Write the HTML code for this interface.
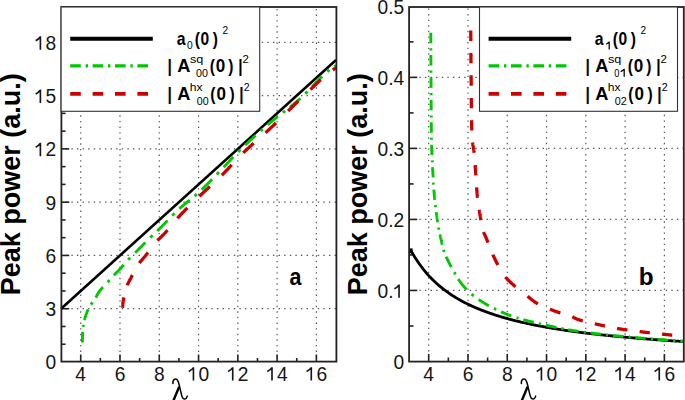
<!DOCTYPE html><html><head><meta charset="utf-8"><style>html,body{margin:0;padding:0;background:#fff;}svg{display:block;}text{font-family:"Liberation Sans",sans-serif;}</style></head><body>
<svg width="685" height="400" viewBox="0 0 685 400">
<rect width="685" height="400" fill="#fff"/>
<line x1="61.07" y1="308.72" x2="336.03" y2="308.72" stroke="#555" stroke-width="1.2" stroke-dasharray="1.4 4.2" fill="none" stroke-dashoffset="0.9"/>
<line x1="61.07" y1="255.44" x2="336.03" y2="255.44" stroke="#555" stroke-width="1.2" stroke-dasharray="1.4 4.2" fill="none" stroke-dashoffset="0.9"/>
<line x1="61.07" y1="202.16" x2="336.03" y2="202.16" stroke="#555" stroke-width="1.2" stroke-dasharray="1.4 4.2" fill="none" stroke-dashoffset="0.9"/>
<line x1="61.07" y1="148.88" x2="336.03" y2="148.88" stroke="#555" stroke-width="1.2" stroke-dasharray="1.4 4.2" fill="none" stroke-dashoffset="0.9"/>
<line x1="61.07" y1="95.60" x2="336.03" y2="95.60" stroke="#555" stroke-width="1.2" stroke-dasharray="1.4 4.2" fill="none" stroke-dashoffset="0.9"/>
<line x1="61.07" y1="42.32" x2="336.03" y2="42.32" stroke="#555" stroke-width="1.2" stroke-dasharray="1.4 4.2" fill="none" stroke-dashoffset="0.9"/>
<line x1="80.71" y1="362.00" x2="80.71" y2="6.80" stroke="#555" stroke-width="1.2" stroke-dasharray="1.4 4.2" fill="none" stroke-dashoffset="1.15"/>
<line x1="119.99" y1="362.00" x2="119.99" y2="6.80" stroke="#555" stroke-width="1.2" stroke-dasharray="1.4 4.2" fill="none" stroke-dashoffset="1.15"/>
<line x1="159.27" y1="362.00" x2="159.27" y2="6.80" stroke="#555" stroke-width="1.2" stroke-dasharray="1.4 4.2" fill="none" stroke-dashoffset="1.15"/>
<line x1="198.55" y1="362.00" x2="198.55" y2="6.80" stroke="#555" stroke-width="1.2" stroke-dasharray="1.4 4.2" fill="none" stroke-dashoffset="1.15"/>
<line x1="237.83" y1="362.00" x2="237.83" y2="6.80" stroke="#555" stroke-width="1.2" stroke-dasharray="1.4 4.2" fill="none" stroke-dashoffset="1.15"/>
<line x1="277.11" y1="362.00" x2="277.11" y2="6.80" stroke="#555" stroke-width="1.2" stroke-dasharray="1.4 4.2" fill="none" stroke-dashoffset="1.15"/>
<line x1="316.39" y1="362.00" x2="316.39" y2="6.80" stroke="#555" stroke-width="1.2" stroke-dasharray="1.4 4.2" fill="none" stroke-dashoffset="1.15"/>
<line x1="61.07" y1="308.72" x2="69.27" y2="308.72" stroke="#222" stroke-width="1.6" fill="none"/>
<line x1="61.07" y1="255.44" x2="69.27" y2="255.44" stroke="#222" stroke-width="1.6" fill="none"/>
<line x1="61.07" y1="202.16" x2="69.27" y2="202.16" stroke="#222" stroke-width="1.6" fill="none"/>
<line x1="61.07" y1="148.88" x2="69.27" y2="148.88" stroke="#222" stroke-width="1.6" fill="none"/>
<line x1="61.07" y1="95.60" x2="69.27" y2="95.60" stroke="#222" stroke-width="1.6" fill="none"/>
<line x1="61.07" y1="42.32" x2="69.27" y2="42.32" stroke="#222" stroke-width="1.6" fill="none"/>
<line x1="61.07" y1="344.24" x2="65.57" y2="344.24" stroke="#222" stroke-width="1.6" fill="none"/>
<line x1="61.07" y1="326.48" x2="65.57" y2="326.48" stroke="#222" stroke-width="1.6" fill="none"/>
<line x1="61.07" y1="290.96" x2="65.57" y2="290.96" stroke="#222" stroke-width="1.6" fill="none"/>
<line x1="61.07" y1="273.20" x2="65.57" y2="273.20" stroke="#222" stroke-width="1.6" fill="none"/>
<line x1="61.07" y1="237.68" x2="65.57" y2="237.68" stroke="#222" stroke-width="1.6" fill="none"/>
<line x1="61.07" y1="219.92" x2="65.57" y2="219.92" stroke="#222" stroke-width="1.6" fill="none"/>
<line x1="61.07" y1="184.40" x2="65.57" y2="184.40" stroke="#222" stroke-width="1.6" fill="none"/>
<line x1="61.07" y1="166.64" x2="65.57" y2="166.64" stroke="#222" stroke-width="1.6" fill="none"/>
<line x1="61.07" y1="131.12" x2="65.57" y2="131.12" stroke="#222" stroke-width="1.6" fill="none"/>
<line x1="61.07" y1="113.36" x2="65.57" y2="113.36" stroke="#222" stroke-width="1.6" fill="none"/>
<line x1="61.07" y1="77.84" x2="65.57" y2="77.84" stroke="#222" stroke-width="1.6" fill="none"/>
<line x1="61.07" y1="60.08" x2="65.57" y2="60.08" stroke="#222" stroke-width="1.6" fill="none"/>
<line x1="61.07" y1="24.56" x2="65.57" y2="24.56" stroke="#222" stroke-width="1.6" fill="none"/>
<line x1="80.71" y1="362.00" x2="80.71" y2="354.50" stroke="#222" stroke-width="1.6" fill="none"/>
<line x1="119.99" y1="362.00" x2="119.99" y2="354.50" stroke="#222" stroke-width="1.6" fill="none"/>
<line x1="159.27" y1="362.00" x2="159.27" y2="354.50" stroke="#222" stroke-width="1.6" fill="none"/>
<line x1="198.55" y1="362.00" x2="198.55" y2="354.50" stroke="#222" stroke-width="1.6" fill="none"/>
<line x1="237.83" y1="362.00" x2="237.83" y2="354.50" stroke="#222" stroke-width="1.6" fill="none"/>
<line x1="277.11" y1="362.00" x2="277.11" y2="354.50" stroke="#222" stroke-width="1.6" fill="none"/>
<line x1="316.39" y1="362.00" x2="316.39" y2="354.50" stroke="#222" stroke-width="1.6" fill="none"/>
<line x1="100.35" y1="362.00" x2="100.35" y2="358.00" stroke="#222" stroke-width="1.6" fill="none"/>
<line x1="139.63" y1="362.00" x2="139.63" y2="358.00" stroke="#222" stroke-width="1.6" fill="none"/>
<line x1="178.91" y1="362.00" x2="178.91" y2="358.00" stroke="#222" stroke-width="1.6" fill="none"/>
<line x1="218.19" y1="362.00" x2="218.19" y2="358.00" stroke="#222" stroke-width="1.6" fill="none"/>
<line x1="257.47" y1="362.00" x2="257.47" y2="358.00" stroke="#222" stroke-width="1.6" fill="none"/>
<line x1="296.75" y1="362.00" x2="296.75" y2="358.00" stroke="#222" stroke-width="1.6" fill="none"/>
<text transform="translate(45.49,369.40) scale(0.96,1)" font-size="20.0" fill="#161616">0</text>
<text transform="translate(45.49,316.12) scale(0.96,1)" font-size="20.0" fill="#161616">3</text>
<text transform="translate(45.49,262.84) scale(0.96,1)" font-size="20.0" fill="#161616">6</text>
<text transform="translate(45.49,209.56) scale(0.96,1)" font-size="20.0" fill="#161616">9</text>
<path d="M40.39,142.82 L40.39,156.28 M40.39,143.32 C39.09,145.32 37.19,146.52 35.69,147.22" fill="none" stroke="#161616" stroke-width="1.65"/>
<text transform="translate(45.49,156.28) scale(0.96,1)" font-size="20.0" fill="#161616">2</text>
<path d="M40.39,89.54 L40.39,103.00 M40.39,90.04 C39.09,92.04 37.19,93.24 35.69,93.94" fill="none" stroke="#161616" stroke-width="1.65"/>
<text transform="translate(45.49,103.00) scale(0.96,1)" font-size="20.0" fill="#161616">5</text>
<path d="M40.39,36.26 L40.39,49.72 M40.39,36.76 C39.09,38.76 37.19,39.96 35.69,40.66" fill="none" stroke="#161616" stroke-width="1.65"/>
<text transform="translate(45.49,49.72) scale(0.96,1)" font-size="20.0" fill="#161616">8</text>
<text transform="translate(75.37,380.60) scale(0.96,1)" font-size="20.0" fill="#161616">4</text>
<text transform="translate(114.65,380.60) scale(0.96,1)" font-size="20.0" fill="#161616">6</text>
<text transform="translate(153.93,380.60) scale(0.96,1)" font-size="20.0" fill="#161616">8</text>
<path d="M193.44,367.14 L193.44,380.60 M193.44,367.64 C192.14,369.64 190.24,370.84 188.74,371.54" fill="none" stroke="#161616" stroke-width="1.65"/>
<text transform="translate(198.55,380.60) scale(0.96,1)" font-size="20.0" fill="#161616">0</text>
<path d="M232.72,367.14 L232.72,380.60 M232.72,367.64 C231.42,369.64 229.52,370.84 228.02,371.54" fill="none" stroke="#161616" stroke-width="1.65"/>
<text transform="translate(237.83,380.60) scale(0.96,1)" font-size="20.0" fill="#161616">2</text>
<path d="M272.00,367.14 L272.00,380.60 M272.00,367.64 C270.70,369.64 268.80,370.84 267.30,371.54" fill="none" stroke="#161616" stroke-width="1.65"/>
<text transform="translate(277.11,380.60) scale(0.96,1)" font-size="20.0" fill="#161616">4</text>
<path d="M311.28,367.14 L311.28,380.60 M311.28,367.64 C309.98,369.64 308.08,370.84 306.58,371.54" fill="none" stroke="#161616" stroke-width="1.65"/>
<text transform="translate(316.39,380.60) scale(0.96,1)" font-size="20.0" fill="#161616">6</text>
<line x1="409.06" y1="290.47" x2="684.02" y2="290.47" stroke="#555" stroke-width="1.2" stroke-dasharray="1.4 4.2" fill="none" stroke-dashoffset="0.9"/>
<line x1="409.06" y1="219.44" x2="684.02" y2="219.44" stroke="#555" stroke-width="1.2" stroke-dasharray="1.4 4.2" fill="none" stroke-dashoffset="0.9"/>
<line x1="409.06" y1="148.41" x2="684.02" y2="148.41" stroke="#555" stroke-width="1.2" stroke-dasharray="1.4 4.2" fill="none" stroke-dashoffset="0.9"/>
<line x1="409.06" y1="77.38" x2="684.02" y2="77.38" stroke="#555" stroke-width="1.2" stroke-dasharray="1.4 4.2" fill="none" stroke-dashoffset="0.9"/>
<line x1="428.70" y1="361.50" x2="428.70" y2="6.35" stroke="#555" stroke-width="1.2" stroke-dasharray="1.4 4.2" fill="none" stroke-dashoffset="1.15"/>
<line x1="467.98" y1="361.50" x2="467.98" y2="6.35" stroke="#555" stroke-width="1.2" stroke-dasharray="1.4 4.2" fill="none" stroke-dashoffset="1.15"/>
<line x1="507.26" y1="361.50" x2="507.26" y2="6.35" stroke="#555" stroke-width="1.2" stroke-dasharray="1.4 4.2" fill="none" stroke-dashoffset="1.15"/>
<line x1="546.54" y1="361.50" x2="546.54" y2="6.35" stroke="#555" stroke-width="1.2" stroke-dasharray="1.4 4.2" fill="none" stroke-dashoffset="1.15"/>
<line x1="585.82" y1="361.50" x2="585.82" y2="6.35" stroke="#555" stroke-width="1.2" stroke-dasharray="1.4 4.2" fill="none" stroke-dashoffset="1.15"/>
<line x1="625.10" y1="361.50" x2="625.10" y2="6.35" stroke="#555" stroke-width="1.2" stroke-dasharray="1.4 4.2" fill="none" stroke-dashoffset="1.15"/>
<line x1="664.38" y1="361.50" x2="664.38" y2="6.35" stroke="#555" stroke-width="1.2" stroke-dasharray="1.4 4.2" fill="none" stroke-dashoffset="1.15"/>
<line x1="409.06" y1="290.47" x2="417.26" y2="290.47" stroke="#222" stroke-width="1.6" fill="none"/>
<line x1="409.06" y1="219.44" x2="417.26" y2="219.44" stroke="#222" stroke-width="1.6" fill="none"/>
<line x1="409.06" y1="148.41" x2="417.26" y2="148.41" stroke="#222" stroke-width="1.6" fill="none"/>
<line x1="409.06" y1="77.38" x2="417.26" y2="77.38" stroke="#222" stroke-width="1.6" fill="none"/>
<line x1="409.06" y1="325.99" x2="413.56" y2="325.99" stroke="#222" stroke-width="1.6" fill="none"/>
<line x1="409.06" y1="254.96" x2="413.56" y2="254.96" stroke="#222" stroke-width="1.6" fill="none"/>
<line x1="409.06" y1="183.93" x2="413.56" y2="183.93" stroke="#222" stroke-width="1.6" fill="none"/>
<line x1="409.06" y1="112.90" x2="413.56" y2="112.90" stroke="#222" stroke-width="1.6" fill="none"/>
<line x1="409.06" y1="41.87" x2="413.56" y2="41.87" stroke="#222" stroke-width="1.6" fill="none"/>
<line x1="428.70" y1="361.50" x2="428.70" y2="354.00" stroke="#222" stroke-width="1.6" fill="none"/>
<line x1="467.98" y1="361.50" x2="467.98" y2="354.00" stroke="#222" stroke-width="1.6" fill="none"/>
<line x1="507.26" y1="361.50" x2="507.26" y2="354.00" stroke="#222" stroke-width="1.6" fill="none"/>
<line x1="546.54" y1="361.50" x2="546.54" y2="354.00" stroke="#222" stroke-width="1.6" fill="none"/>
<line x1="585.82" y1="361.50" x2="585.82" y2="354.00" stroke="#222" stroke-width="1.6" fill="none"/>
<line x1="625.10" y1="361.50" x2="625.10" y2="354.00" stroke="#222" stroke-width="1.6" fill="none"/>
<line x1="664.38" y1="361.50" x2="664.38" y2="354.00" stroke="#222" stroke-width="1.6" fill="none"/>
<line x1="448.34" y1="361.50" x2="448.34" y2="357.50" stroke="#222" stroke-width="1.6" fill="none"/>
<line x1="487.62" y1="361.50" x2="487.62" y2="357.50" stroke="#222" stroke-width="1.6" fill="none"/>
<line x1="526.90" y1="361.50" x2="526.90" y2="357.50" stroke="#222" stroke-width="1.6" fill="none"/>
<line x1="566.18" y1="361.50" x2="566.18" y2="357.50" stroke="#222" stroke-width="1.6" fill="none"/>
<line x1="605.46" y1="361.50" x2="605.46" y2="357.50" stroke="#222" stroke-width="1.6" fill="none"/>
<line x1="644.74" y1="361.50" x2="644.74" y2="357.50" stroke="#222" stroke-width="1.6" fill="none"/>
<text transform="translate(393.48,368.90) scale(0.96,1)" font-size="20.0" fill="#161616">0</text>
<text transform="translate(377.47,297.87) scale(0.96,1)" font-size="20.0" fill="#161616">0</text>
<text transform="translate(388.15,297.87) scale(0.96,1)" font-size="20.0" fill="#161616">.</text>
<path d="M399.05,284.41 L399.05,297.87 M399.05,284.91 C397.75,286.91 395.85,288.11 394.35,288.81" fill="none" stroke="#161616" stroke-width="1.65"/>
<text transform="translate(377.47,226.84) scale(0.96,1)" font-size="20.0" fill="#161616">0</text>
<text transform="translate(388.15,226.84) scale(0.96,1)" font-size="20.0" fill="#161616">.</text>
<text transform="translate(393.48,226.84) scale(0.96,1)" font-size="20.0" fill="#161616">2</text>
<text transform="translate(377.47,155.81) scale(0.96,1)" font-size="20.0" fill="#161616">0</text>
<text transform="translate(388.15,155.81) scale(0.96,1)" font-size="20.0" fill="#161616">.</text>
<text transform="translate(393.48,155.81) scale(0.96,1)" font-size="20.0" fill="#161616">3</text>
<text transform="translate(377.47,84.78) scale(0.96,1)" font-size="20.0" fill="#161616">0</text>
<text transform="translate(388.15,84.78) scale(0.96,1)" font-size="20.0" fill="#161616">.</text>
<text transform="translate(393.48,84.78) scale(0.96,1)" font-size="20.0" fill="#161616">4</text>
<text transform="translate(377.47,13.75) scale(0.96,1)" font-size="20.0" fill="#161616">0</text>
<text transform="translate(388.15,13.75) scale(0.96,1)" font-size="20.0" fill="#161616">.</text>
<text transform="translate(393.48,13.75) scale(0.96,1)" font-size="20.0" fill="#161616">5</text>
<text transform="translate(423.36,380.60) scale(0.96,1)" font-size="20.0" fill="#161616">4</text>
<text transform="translate(462.64,380.60) scale(0.96,1)" font-size="20.0" fill="#161616">6</text>
<text transform="translate(501.92,380.60) scale(0.96,1)" font-size="20.0" fill="#161616">8</text>
<path d="M541.43,367.14 L541.43,380.60 M541.43,367.64 C540.13,369.64 538.23,370.84 536.73,371.54" fill="none" stroke="#161616" stroke-width="1.65"/>
<text transform="translate(546.54,380.60) scale(0.96,1)" font-size="20.0" fill="#161616">0</text>
<path d="M580.71,367.14 L580.71,380.60 M580.71,367.64 C579.41,369.64 577.51,370.84 576.01,371.54" fill="none" stroke="#161616" stroke-width="1.65"/>
<text transform="translate(585.82,380.60) scale(0.96,1)" font-size="20.0" fill="#161616">2</text>
<path d="M619.99,367.14 L619.99,380.60 M619.99,367.64 C618.69,369.64 616.79,370.84 615.29,371.54" fill="none" stroke="#161616" stroke-width="1.65"/>
<text transform="translate(625.10,380.60) scale(0.96,1)" font-size="20.0" fill="#161616">4</text>
<path d="M659.27,367.14 L659.27,380.60 M659.27,367.64 C657.97,369.64 656.07,370.84 654.57,371.54" fill="none" stroke="#161616" stroke-width="1.65"/>
<text transform="translate(664.38,380.60) scale(0.96,1)" font-size="20.0" fill="#161616">6</text>
<path d="M61.07,308.72 L336.03,60.08" fill="none" stroke="#000" stroke-width="2.6" stroke-linecap="butt" stroke-linejoin="round"/>
<path d="M82.38,342.46 L82.38,342.22 L82.38,341.98 L82.38,341.74 L82.38,341.50 L82.39,341.26 L82.39,341.02 L82.39,340.78 L82.39,340.54 L82.40,340.30 L82.40,340.06 L82.40,339.82 L82.41,339.58 L82.41,339.34 L82.42,339.10 L82.42,338.86 L82.43,338.62 L82.43,338.38 L82.44,338.14 L82.45,337.90 L82.45,337.66 L82.46,337.42 L82.47,337.18 L82.47,336.94 L82.48,336.70 L82.49,336.46 L82.50,336.23 L82.51,335.99 L82.51,335.75 L82.52,335.51 L82.53,335.27 L82.54,335.03 L82.55,334.79 L82.56,334.55 L82.57,334.31 L82.58,334.07 L82.59,333.83 L82.60,333.59 L82.61,333.35 L82.62,333.11 L82.63,332.87 L82.64,332.63 L82.65,332.39 L82.66,332.15 L82.67,331.91 M83.05,326.88 L83.08,326.64 L83.10,326.41 L83.13,326.17 L83.16,325.93 L83.19,325.69 L83.21,325.46 L83.24,325.22 L83.28,324.99 L83.31,324.75 M84.32,320.06 L84.38,319.83 L84.45,319.59 L84.52,319.36 L84.58,319.13 L84.65,318.90 L84.72,318.67 L84.80,318.44 L84.87,318.21 L84.94,317.97 L85.01,317.74 L85.09,317.51 L85.16,317.29 L85.24,317.06 L85.31,316.83 L85.39,316.60 L85.47,316.37 L85.54,316.14 L85.62,315.92 L85.70,315.69 L85.78,315.46 L85.86,315.24 L85.93,315.01 L86.01,314.79 L86.09,314.56 L86.17,314.34 L86.25,314.11 L86.33,313.89 L86.41,313.67 L86.50,313.44 L86.58,313.22 L86.67,313.00 L86.75,312.77 L86.84,312.55 L86.93,312.33 L87.02,312.11 L87.12,311.88 L87.21,311.66 L87.30,311.44 L87.40,311.22 L87.50,311.00 L87.60,310.78 L87.70,310.56 L87.80,310.34 L87.90,310.12 L88.00,309.90 L88.11,309.68 L88.21,309.47 M90.86,304.63 L91.00,304.44 L91.14,304.24 L91.27,304.04 L91.41,303.85 L91.55,303.66 L91.70,303.47 L91.84,303.27 L91.99,303.08 L92.14,302.89 L92.28,302.70 L92.43,302.51 L92.58,302.33 M95.85,297.58 L95.96,297.37 L96.07,297.16 L96.18,296.94 L96.29,296.73 L96.40,296.51 L96.51,296.30 L96.62,296.08 L96.73,295.87 L96.84,295.65 L96.95,295.44 L97.06,295.22 L97.17,295.01 L97.28,294.79 L97.39,294.58 L97.50,294.37 L97.61,294.15 L97.73,293.95 L97.85,293.74 L97.96,293.53 L98.08,293.32 L98.20,293.12 L98.33,292.91 L98.45,292.71 L98.58,292.51 L98.71,292.31 L98.85,292.12 L98.98,291.92 L99.11,291.72 L99.26,291.53 L99.40,291.34 L99.54,291.15 L99.68,290.96 L99.88,290.71 L100.08,290.46 L100.28,290.21 L100.49,289.97 L100.70,289.72 L100.91,289.48 L101.12,289.23 L101.33,288.99 L101.54,288.75 L101.76,288.51 L101.97,288.27 L102.19,288.03 L102.40,287.79 L102.61,287.55 L102.83,287.32 L103.04,287.08 M107.68,282.22 L107.89,281.98 L108.10,281.74 L108.31,281.50 L108.52,281.26 L108.74,281.02 L108.95,280.78 L109.16,280.54 L109.37,280.30 L109.57,280.05 M113.81,275.26 L114.02,275.03 L114.24,274.79 L114.46,274.56 L114.69,274.33 L114.91,274.10 L115.14,273.88 L115.36,273.65 L115.59,273.42 L115.81,273.20 L116.04,272.97 L116.27,272.75 L116.50,272.52 L116.73,272.30 L116.96,272.08 L117.19,271.85 L117.42,271.63 L117.64,271.41 L117.87,271.18 L118.10,270.96 L118.33,270.73 L118.56,270.51 L118.78,270.28 L119.01,270.06 L119.24,269.83 L119.46,269.60 L119.68,269.37 L119.91,269.15 L120.13,268.91 L120.35,268.68 L120.57,268.45 L120.78,268.22 L121.00,267.98 L121.21,267.74 L121.43,267.50 L121.64,267.26 L121.85,267.02 L122.06,266.78 L122.26,266.54 L122.47,266.30 L122.68,266.05 L122.88,265.80 L123.09,265.56 L123.29,265.31 L123.50,265.07 L123.70,264.82 M128.13,259.78 L128.36,259.55 L128.58,259.32 L128.80,259.09 L129.03,258.87 L129.25,258.64 L129.48,258.41 L129.71,258.19 L129.93,257.96 L130.16,257.74 M135.15,252.77 L135.38,252.55 L135.61,252.32 L135.83,252.10 L136.06,251.87 L136.28,251.64 L136.51,251.42 L136.73,251.19 L136.96,250.96 L137.19,250.74 L137.41,250.51 L137.64,250.28 L137.86,250.06 L138.09,249.83 L138.31,249.60 L138.54,249.38 L138.77,249.15 L138.99,248.92 L139.22,248.70 L139.44,248.47 L139.67,248.24 L139.89,248.02 L140.12,247.79 L140.34,247.56 L140.57,247.34 L140.79,247.11 L141.02,246.88 L141.24,246.65 L141.47,246.42 L141.69,246.20 L141.91,245.97 L142.14,245.74 L142.36,245.51 L142.58,245.28 L142.81,245.05 L143.03,244.82 L143.25,244.59 L143.48,244.36 L143.70,244.13 L143.92,243.90 L144.15,243.68 L144.37,243.45 L144.59,243.22 L144.81,242.99 L145.04,242.76 L145.26,242.53 M150.25,237.57 L150.48,237.35 L150.71,237.13 L150.95,236.91 L151.18,236.69 L151.41,236.47 L151.65,236.25 L151.88,236.04 L152.11,235.82 L152.35,235.60 L152.58,235.38 M157.23,230.99 L157.46,230.77 L157.69,230.54 L157.92,230.32 L158.15,230.09 L158.37,229.87 L158.60,229.64 L158.83,229.42 L159.05,229.19 L159.28,228.97 L159.51,228.74 L159.73,228.51 L159.96,228.29 L160.18,228.06 L160.41,227.83 L160.63,227.60 L160.86,227.38 L161.08,227.15 L161.31,226.92 L161.53,226.69 L161.75,226.46 L161.98,226.23 L162.20,226.00 L162.42,225.77 L162.65,225.54 L162.87,225.31 L163.09,225.08 L163.31,224.85 L163.54,224.62 L163.76,224.39 L163.98,224.16 L164.20,223.93 L164.43,223.70 L164.65,223.47 L164.87,223.24 L165.09,223.01 L165.31,222.78 L165.53,222.54 L165.76,222.31 L165.98,222.08 L166.20,221.85 L166.42,221.62 L166.64,221.39 L166.86,221.16 L167.09,220.93 L167.31,220.69 L167.53,220.46 M172.20,215.63 L172.43,215.41 L172.65,215.18 L172.88,214.95 L173.10,214.72 L173.33,214.50 L173.55,214.27 L173.78,214.04 L174.01,213.82 L174.23,213.59 L174.46,213.37 M179.30,208.74 L179.54,208.52 L179.77,208.31 L180.01,208.09 L180.25,207.88 L180.48,207.67 L180.72,207.46 L180.96,207.25 L181.20,207.03 L181.44,206.83 L181.69,206.62 L181.93,206.41 L182.17,206.20 L182.41,205.99 L182.66,205.79 L182.90,205.58 L183.15,205.38 L183.39,205.17 L183.64,204.97 L183.88,204.76 L184.13,204.56 L184.38,204.35 L184.63,204.15 L184.87,203.95 L185.12,203.75 L185.37,203.54 L185.62,203.34 L185.87,203.14 L186.12,202.94 L186.37,202.74 L186.61,202.54 L186.86,202.34 L187.11,202.13 L187.30,201.98 L187.49,201.83 L187.68,201.68 L187.86,201.53 L188.05,201.38 L188.24,201.23 L188.43,201.08 L188.62,200.93 L188.80,200.78 L188.99,200.63 L189.18,200.48 L189.37,200.33 L189.55,200.18 L189.74,200.03 M194.57,196.08 L194.82,195.87 L195.06,195.66 L195.30,195.46 L195.54,195.25 L195.79,195.04 L196.03,194.83 L196.27,194.62 L196.51,194.41 L196.75,194.20 M201.66,189.64 L201.89,189.42 L202.12,189.20 L202.35,188.98 L202.58,188.76 L202.81,188.53 L203.04,188.31 L203.27,188.09 L203.50,187.87 L203.73,187.64 L203.96,187.42 L204.19,187.20 L204.41,186.97 L204.64,186.75 L204.87,186.53 L205.10,186.30 L205.32,186.08 L205.55,185.85 L205.78,185.63 L206.01,185.40 L206.23,185.18 L206.46,184.95 L206.69,184.72 L206.91,184.50 L207.14,184.27 L207.36,184.04 L207.59,183.82 L207.82,183.59 L208.04,183.36 L208.27,183.14 L208.49,182.91 L208.72,182.68 L208.94,182.45 L209.17,182.23 L209.39,182.00 L209.61,181.77 L209.84,181.54 L210.06,181.31 L210.29,181.08 L210.51,180.85 L210.74,180.63 L210.96,180.40 L211.18,180.17 L211.41,179.94 L211.63,179.71 L211.85,179.48 L212.08,179.25 M216.75,174.42 L216.98,174.19 L217.20,173.95 L217.42,173.72 L217.64,173.49 L217.86,173.26 L218.09,173.03 L218.31,172.80 L218.53,172.57 L218.75,172.34 L218.98,172.11 M223.64,167.28 L223.86,167.05 L224.08,166.82 L224.30,166.59 L224.52,166.35 L224.74,166.12 L224.96,165.89 L225.18,165.66 L225.40,165.42 L225.62,165.19 L225.84,164.95 L226.06,164.72 L226.28,164.49 L226.50,164.25 L226.71,164.02 L226.93,163.79 L227.15,163.55 L227.37,163.32 L227.59,163.08 L227.80,162.85 L228.02,162.61 L228.24,162.38 L228.46,162.14 L228.68,161.91 L228.89,161.67 L229.11,161.44 L229.33,161.21 L229.55,160.97 L229.76,160.74 L229.98,160.50 L230.20,160.27 L230.42,160.03 L230.64,159.80 L230.85,159.56 L231.07,159.33 L231.29,159.10 L231.51,158.86 L231.73,158.63 L231.94,158.39 L232.16,158.16 L232.38,157.93 L232.60,157.69 L232.82,157.46 L233.04,157.23 L233.26,156.99 M238.14,151.93 L238.36,151.71 L238.59,151.48 L238.81,151.25 L239.04,151.03 L239.27,150.80 L239.49,150.58 L239.72,150.36 L239.95,150.13 L240.18,149.91 L240.41,149.69 M245.24,145.03 L245.47,144.81 L245.70,144.59 L245.93,144.37 L246.17,144.15 L246.40,143.93 L246.63,143.71 L246.86,143.49 L247.10,143.27 L247.33,143.05 L247.56,142.83 L247.80,142.61 L248.03,142.40 L248.26,142.18 L248.50,141.96 L248.73,141.74 L248.97,141.52 L249.20,141.30 L249.43,141.09 L249.67,140.87 L249.90,140.65 L250.14,140.43 L250.37,140.22 L250.61,140.00 L250.84,139.78 L251.08,139.57 L251.32,139.35 L251.55,139.13 L251.79,138.92 L252.02,138.70 L252.26,138.48 L252.49,138.27 L252.73,138.05 L252.97,137.84 L253.20,137.62 L253.44,137.40 L253.68,137.19 L253.91,136.97 L254.15,136.76 L254.39,136.54 L254.63,136.33 L254.86,136.11 L255.10,135.90 L255.34,135.68 L255.58,135.47 M260.60,131.00 L260.84,130.79 L261.08,130.57 L261.32,130.36 L261.56,130.15 L261.80,129.94 L262.04,129.73 L262.28,129.52 L262.52,129.31 L262.76,129.10 M267.59,124.91 L267.83,124.70 L268.08,124.49 L268.32,124.28 L268.56,124.08 L268.80,123.87 L269.05,123.66 L269.29,123.45 L269.53,123.25 L269.78,123.04 L270.02,122.83 L270.26,122.63 L270.51,122.42 L270.75,122.22 L271.00,122.01 L271.24,121.81 L271.49,121.60 L271.74,121.40 L271.98,121.19 L272.23,120.99 L272.48,120.79 L272.72,120.58 L272.97,120.38 L273.22,120.18 L273.47,119.98 L273.71,119.78 L273.96,119.57 L274.21,119.37 L274.46,119.17 L274.71,118.97 L274.96,118.77 L275.21,118.57 L275.46,118.37 L275.65,118.22 L275.83,118.07 L276.02,117.92 L276.21,117.77 L276.40,117.63 L276.59,117.48 L276.77,117.33 L276.96,117.18 L277.15,117.03 L277.34,116.88 L277.53,116.73 L277.72,116.58 L277.90,116.43 M282.83,112.60 L283.02,112.45 L283.21,112.30 L283.40,112.16 L283.59,112.01 L283.78,111.86 L283.97,111.71 L284.16,111.57 L284.35,111.42 L284.54,111.27 L284.73,111.13 L284.92,110.98 L285.11,110.83 M289.84,107.14 L290.03,106.99 L290.22,106.84 L290.41,106.69 L290.59,106.54 L290.78,106.39 L290.97,106.24 L291.16,106.09 L291.35,105.94 L291.59,105.74 L291.84,105.54 L292.09,105.34 L292.34,105.14 L292.59,104.94 L292.84,104.74 L293.09,104.54 L293.34,104.34 L293.59,104.14 L293.83,103.94 L294.08,103.74 L294.33,103.53 L294.58,103.33 L294.82,103.13 L295.07,102.92 L295.31,102.72 L295.56,102.52 L295.81,102.31 L296.05,102.11 L296.30,101.90 L296.54,101.70 L296.78,101.49 L297.03,101.29 L297.27,101.08 L297.51,100.87 L297.76,100.67 L298.00,100.46 L298.24,100.25 L298.48,100.04 L298.72,99.83 L298.97,99.62 L299.21,99.41 L299.45,99.20 L299.68,98.99 L299.92,98.78 L300.16,98.57 L300.40,98.36 M305.28,93.73 L305.51,93.50 L305.74,93.27 L305.96,93.05 L306.19,92.82 L306.42,92.59 L306.64,92.36 L306.87,92.13 L307.09,91.91 L307.32,91.68 L307.55,91.45 M312.24,86.56 L312.46,86.33 L312.68,86.10 L312.90,85.86 L313.13,85.63 L313.35,85.40 L313.57,85.16 L313.79,84.93 L314.01,84.69 L314.24,84.46 L314.46,84.23 L314.68,83.99 L314.90,83.76 L315.13,83.53 L315.35,83.30 L315.57,83.06 L315.79,82.83 L316.02,82.60 L316.24,82.37 L316.46,82.13 L316.69,81.90 L316.91,81.67 L317.13,81.44 L317.36,81.21 L317.58,80.98 L317.81,80.75 L318.03,80.52 L318.26,80.29 L318.48,80.06 L318.71,79.83 L318.93,79.60 L319.16,79.37 L319.38,79.14 L319.61,78.92 L319.84,78.69 L320.06,78.46 L320.29,78.24 L320.52,78.01 L320.74,77.78 L320.97,77.56 L321.20,77.33 L321.43,77.11 L321.66,76.89 L321.89,76.66 L322.12,76.44 M327.29,71.72 L327.53,71.52 L327.77,71.31 L328.01,71.11 L328.26,70.91 L328.50,70.70 L328.74,70.50 L328.99,70.30 L329.24,70.10 L329.48,69.91 M334.17,66.53 L334.38,66.40 L334.58,66.28 L334.79,66.15 L335.00,66.03 L335.20,65.90 L335.41,65.78 L335.62,65.66 L335.82,65.53 L336.03,65.41" fill="none" stroke="#00c800" stroke-width="2.9" stroke-linecap="butt" stroke-linejoin="round"/>
<path d="M122.54,307.83 L122.55,307.63 L122.57,307.42 L122.58,307.22 L122.59,307.01 L122.60,306.81 L122.62,306.61 L122.63,306.40 L122.65,306.20 L122.66,305.99 L122.68,305.79 L122.70,305.59 L122.72,305.38 L122.73,305.18 L122.75,304.98 L122.77,304.77 L122.79,304.57 L122.81,304.37 L122.84,304.16 L122.86,303.96 L122.88,303.76 L122.90,303.55 L122.92,303.35 L122.95,303.15 L122.97,302.95 L122.99,302.74 L123.02,302.54 L123.04,302.34 L123.07,302.14 L123.09,301.93 L123.12,301.73 L123.14,301.53 L123.17,301.33 L123.20,301.13 L123.23,300.92 L123.26,300.72 L123.29,300.52 L123.32,300.32 L123.35,300.12 L123.39,299.92 L123.42,299.71 L123.46,299.51 L123.50,299.31 L123.53,299.11 L123.57,298.91 L123.61,298.71 L123.65,298.51 L123.69,298.31 L123.73,298.11 L123.77,297.91 L123.81,297.71 L123.85,297.51 L123.89,297.31 M127.22,285.25 L127.32,285.00 L127.43,284.75 L127.54,284.50 L127.65,284.26 L127.76,284.01 L127.88,283.76 L127.99,283.52 L128.11,283.27 L128.24,283.03 L128.36,282.78 L128.48,282.54 L128.61,282.30 L128.73,282.05 L128.86,281.81 L128.99,281.57 L129.12,281.33 L129.25,281.09 L129.38,280.84 L129.51,280.60 L129.64,280.36 L129.77,280.12 L129.90,279.88 L130.02,279.64 L130.15,279.40 L130.28,279.15 L130.41,278.91 L130.53,278.67 L130.66,278.43 L130.79,278.19 L130.91,277.94 L131.03,277.70 L131.15,277.46 L131.28,277.21 L131.40,276.97 L131.52,276.72 L131.64,276.48 L131.76,276.23 L131.88,275.99 L132.00,275.74 L132.12,275.50 L132.24,275.25 L132.37,275.00 M139.26,263.02 L139.43,262.80 L139.60,262.59 L139.77,262.38 L139.94,262.17 L140.11,261.96 L140.29,261.75 L140.47,261.55 L140.64,261.34 L140.82,261.13 L141.00,260.92 L141.18,260.72 L141.36,260.51 L141.54,260.30 L141.72,260.10 L141.90,259.89 L142.08,259.69 L142.26,259.48 L142.45,259.28 L142.63,259.07 L142.81,258.87 L142.99,258.66 L143.17,258.46 L143.35,258.25 L143.54,258.04 L143.72,257.84 L143.90,257.63 L144.07,257.42 L144.25,257.22 L144.43,257.01 L144.61,256.80 L144.78,256.59 L144.96,256.38 L145.13,256.17 L145.30,255.96 L145.48,255.75 L145.64,255.53 L145.81,255.32 L145.98,255.10 L146.15,254.89 L146.31,254.67 L146.48,254.46 L146.64,254.24 L146.81,254.02 L146.97,253.80 L147.13,253.58 L147.29,253.36 L147.46,253.14 L147.62,252.92 L147.78,252.70 L147.94,252.48 M157.37,240.55 L157.57,240.36 L157.76,240.16 L157.95,239.97 L158.14,239.78 L158.34,239.59 L158.53,239.40 L158.73,239.21 L158.93,239.02 L159.12,238.83 L159.32,238.64 L159.51,238.45 L159.71,238.26 L159.91,238.07 L160.10,237.88 L160.30,237.69 L160.50,237.50 L160.70,237.31 L160.89,237.12 L161.09,236.93 L161.29,236.74 L161.48,236.55 L161.68,236.36 L161.87,236.17 L162.07,235.98 L162.26,235.79 L162.46,235.59 L162.65,235.40 L162.84,235.21 L163.04,235.02 L163.23,234.82 L163.42,234.63 L163.61,234.43 L163.80,234.24 L163.99,234.04 L164.17,233.84 L164.36,233.65 L164.55,233.45 L164.73,233.25 L164.91,233.05 L165.10,232.85 L165.28,232.64 L165.46,232.44 L165.64,232.24 L165.83,232.04 L166.01,231.84 L166.19,231.63 L166.37,231.43 L166.55,231.22 L166.73,231.02 L166.91,230.81 L167.08,230.61 L167.26,230.40 L167.44,230.20 M177.44,218.31 L177.61,218.10 L177.79,217.90 L177.98,217.69 L178.16,217.49 L178.34,217.29 L178.52,217.09 L178.70,216.89 L178.88,216.68 L179.07,216.48 L179.25,216.28 L179.43,216.08 L179.62,215.88 L179.80,215.68 L179.99,215.49 L180.17,215.29 L180.36,215.09 L180.55,214.89 L180.73,214.69 L180.92,214.49 L181.11,214.30 L181.29,214.10 L181.48,213.90 L181.67,213.71 L181.86,213.51 L182.04,213.31 L182.23,213.12 L182.42,212.92 L182.61,212.72 L182.80,212.53 L182.99,212.33 L183.18,212.14 L183.37,211.94 L183.56,211.75 L183.75,211.55 L183.94,211.36 L184.13,211.16 L184.32,210.97 L184.51,210.77 L184.70,210.58 L184.89,210.39 L185.08,210.19 L185.27,210.00 L185.46,209.81 L185.66,209.61 L185.85,209.42 L186.04,209.23 L186.23,209.03 L186.42,208.84 L186.62,208.65 L186.81,208.46 L187.00,208.26 L187.20,208.07 L187.39,207.88 M199.32,196.30 L199.52,196.11 L199.71,195.93 L199.91,195.74 L200.11,195.55 L200.30,195.36 L200.50,195.17 L200.70,194.99 L200.89,194.80 L201.09,194.61 L201.29,194.42 L201.49,194.24 L201.68,194.05 L201.88,193.86 L202.08,193.68 L202.28,193.49 L202.48,193.30 L202.68,193.12 L202.88,192.93 L203.08,192.75 L203.27,192.56 L203.47,192.37 L203.67,192.19 L203.87,192.00 L204.07,191.82 L204.27,191.63 L204.47,191.45 L204.67,191.26 L204.87,191.08 L205.07,190.89 L205.27,190.71 L205.47,190.52 L205.67,190.34 L205.87,190.15 L206.07,189.97 L206.27,189.78 L206.47,189.60 L206.68,189.42 L206.88,189.23 L207.08,189.05 L207.28,188.86 L207.48,188.68 L207.68,188.50 L207.88,188.31 L208.08,188.13 L208.28,187.94 L208.48,187.76 L208.68,187.58 L208.88,187.39 L209.09,187.21 L209.29,187.02 L209.49,186.84 L209.69,186.66 L209.89,186.47 M221.78,175.27 L221.97,175.08 L222.16,174.89 L222.36,174.69 L222.55,174.50 L222.74,174.31 L222.93,174.11 L223.12,173.92 L223.31,173.73 L223.50,173.53 L223.69,173.34 L223.88,173.14 L224.07,172.95 L224.26,172.75 L224.45,172.56 L224.64,172.36 L224.83,172.17 L225.02,171.97 L225.21,171.77 L225.40,171.58 L225.58,171.38 L225.77,171.18 L225.96,170.98 L226.15,170.79 L226.33,170.59 L226.52,170.39 L226.71,170.19 L226.90,170.00 L227.08,169.80 L227.27,169.60 L227.46,169.40 L227.64,169.20 L227.83,169.00 L228.02,168.80 L228.20,168.60 L228.39,168.40 L228.57,168.21 L228.76,168.01 L228.94,167.81 L229.13,167.61 L229.32,167.41 L229.50,167.21 L229.69,167.01 L229.87,166.81 L230.06,166.61 L230.24,166.41 L230.43,166.21 L230.61,166.01 L230.80,165.81 L230.98,165.61 L231.17,165.41 L231.35,165.21 L231.54,165.01 L231.72,164.81 M243.23,152.83 L243.42,152.64 L243.62,152.46 L243.82,152.27 L244.01,152.08 L244.21,151.89 L244.41,151.70 L244.60,151.52 L244.80,151.33 L245.00,151.14 L245.20,150.96 L245.39,150.77 L245.59,150.58 L245.79,150.40 L245.99,150.21 L246.19,150.03 L246.39,149.84 L246.59,149.66 L246.78,149.47 L246.98,149.29 L247.18,149.10 L247.38,148.92 L247.58,148.73 L247.78,148.55 L247.98,148.36 L248.19,148.18 L248.39,148.00 L248.59,147.81 L248.79,147.63 L248.99,147.45 L249.19,147.26 L249.39,147.08 L249.59,146.90 L249.80,146.72 L250.00,146.53 L250.20,146.35 L250.40,146.17 L250.61,145.99 L250.81,145.80 L251.01,145.62 L251.21,145.44 L251.42,145.26 L251.62,145.08 L251.82,144.90 L252.03,144.72 L252.23,144.53 L252.43,144.35 L252.64,144.17 L252.84,143.99 L253.04,143.81 L253.25,143.63 L253.45,143.45 L253.66,143.27 M265.49,132.79 L265.70,132.61 L265.90,132.43 L266.10,132.24 L266.30,132.06 L266.50,131.88 L266.70,131.69 L266.90,131.51 L267.11,131.33 L267.31,131.14 L267.51,130.96 L267.71,130.78 L267.91,130.59 L268.11,130.41 L268.31,130.22 L268.51,130.04 L268.71,129.85 L268.91,129.67 L269.11,129.48 L269.31,129.30 L269.50,129.11 L269.70,128.92 L269.90,128.74 L270.10,128.55 L270.30,128.37 L270.50,128.18 L270.70,127.99 L270.89,127.81 L271.09,127.62 L271.29,127.43 L271.49,127.24 L271.69,127.06 L271.88,126.87 L272.08,126.68 L272.28,126.50 L272.48,126.31 L272.67,126.12 L272.87,125.93 L273.07,125.74 L273.26,125.56 L273.46,125.37 L273.66,125.18 L273.85,124.99 L274.05,124.80 L274.25,124.62 L274.44,124.43 L274.64,124.24 L274.84,124.05 L275.03,123.86 L275.23,123.67 L275.43,123.48 L275.62,123.29 L275.82,123.10 L276.01,122.92 M288.05,111.07 L288.25,110.88 L288.44,110.68 L288.63,110.49 L288.83,110.30 L289.02,110.11 L289.21,109.92 L289.41,109.72 L289.60,109.53 L289.79,109.34 L289.99,109.15 L290.18,108.96 L290.37,108.77 L290.57,108.57 L290.76,108.38 L290.95,108.19 L291.15,108.00 L291.34,107.81 L291.53,107.61 L291.73,107.42 L291.92,107.23 L292.12,107.04 L292.31,106.85 L292.50,106.66 L292.70,106.46 L292.89,106.27 L293.08,106.08 L293.28,105.89 L293.47,105.70 L293.67,105.51 L293.86,105.31 L294.05,105.12 L294.25,104.93 L294.44,104.74 L294.63,104.55 L294.83,104.36 L295.02,104.17 L295.22,103.98 L295.41,103.78 L295.61,103.59 L295.80,103.40 L295.99,103.21 L296.19,103.02 L296.38,102.83 L296.58,102.64 L296.77,102.45 L296.97,102.26 L297.16,102.07 L297.35,101.88 L297.55,101.69 L297.74,101.50 L297.94,101.31 L298.13,101.12 L298.33,100.92 M310.37,89.50 L310.58,89.32 L310.78,89.13 L310.98,88.95 L311.18,88.77 L311.38,88.58 L311.58,88.40 L311.78,88.22 L311.98,88.03 L312.18,87.85 L312.38,87.66 L312.58,87.47 L312.78,87.29 L312.98,87.10 L313.18,86.91 L313.38,86.73 L313.58,86.54 L313.78,86.35 L313.98,86.16 L314.18,85.97 L314.38,85.79 L314.57,85.60 L314.77,85.41 L314.97,85.22 L315.17,85.03 L315.37,84.84 L315.57,84.65 L315.77,84.46 L315.96,84.27 L316.16,84.08 L316.36,83.89 L316.56,83.70 L316.76,83.51 L316.96,83.32 L317.16,83.13 L317.35,82.94 L317.55,82.75 L317.75,82.56 L317.95,82.36 L318.15,82.17 L318.35,81.98 L318.55,81.79 L318.75,81.60 L318.95,81.41 L319.14,81.22 L319.34,81.03 L319.54,80.84 L319.74,80.66 L319.94,80.47 L320.14,80.28 L320.34,80.09 L320.54,79.90 L320.74,79.71 M332.72,69.92 L332.95,69.78 L333.17,69.63 L333.40,69.49 L333.63,69.35 L333.85,69.21 L334.09,69.07 L334.33,68.94 L334.56,68.81 L334.81,68.69 L335.05,68.56 L335.29,68.44 L335.54,68.32 L335.78,68.19 L336.03,68.07" fill="none" stroke="#cc0000" stroke-width="3.3" stroke-linecap="butt" stroke-linejoin="round"/>
<path d="M410.43,249.52 L411.35,251.19 L412.26,252.82 L413.18,254.39 L414.09,255.93 L415.01,257.42 L415.92,258.86 L416.84,260.27 L417.75,261.64 L418.67,262.97 L419.58,264.27 L420.50,265.54 L421.41,266.77 L422.33,267.97 L423.24,269.14 L424.16,270.28 L425.07,271.40 L425.99,272.48 L426.90,273.54 L427.82,274.58 L428.73,275.59 L429.65,276.58 L430.56,277.55 L431.48,278.49 L432.39,279.41 L433.31,280.32 L434.22,281.20 L435.14,282.07 L436.05,282.91 L436.97,283.74 L437.88,284.55 L438.80,285.34 L439.71,286.12 L440.63,286.88 L441.54,287.63 L442.46,288.36 L443.37,289.08 L444.29,289.79 L445.20,290.48 L446.12,291.15 L447.03,291.82 L447.95,292.47 L448.86,293.11 L449.78,293.74 L450.69,294.35 L451.61,294.96 L452.52,295.55 L453.44,296.14 L454.35,296.71 L455.27,297.28 L456.18,297.83 L457.10,298.37 L458.01,298.91 L458.93,299.44 L459.84,299.95 L460.76,300.46 L461.67,300.96 L462.59,301.46 L463.50,301.94 L464.42,302.42 L465.33,302.89 L466.25,303.35 L467.16,303.80 L468.08,304.25 L468.99,304.69 L469.91,305.13 L470.82,305.55 L471.74,305.97 L472.65,306.39 L473.57,306.80 L474.48,307.20 L475.40,307.60 L476.31,307.99 L477.23,308.37 L478.14,308.75 L479.06,309.13 L479.97,309.50 L480.89,309.86 L481.80,310.22 L482.72,310.57 L483.63,310.92 L484.55,311.27 L485.46,311.61 L486.38,311.94 L487.29,312.27 L488.21,312.60 L489.12,312.92 L490.04,313.25 L490.95,313.56 L491.87,313.87 L492.78,314.18 L493.70,314.49 L494.61,314.79 L495.53,315.09 L496.44,315.38 L497.36,315.67 L498.27,315.95 L499.19,316.24 L500.10,316.52 L501.02,316.79 L501.93,317.06 L502.85,317.33 L503.76,317.60 L504.68,317.86 L505.59,318.12 L506.51,318.38 L507.42,318.63 L508.34,318.88 L509.25,319.13 L510.17,319.38 L511.08,319.62 L512.00,319.86 L512.91,320.09 L513.83,320.33 L514.74,320.56 L515.66,320.79 L516.57,321.02 L517.49,321.24 L518.40,321.46 L519.32,321.68 L520.23,321.90 L521.15,322.11 L522.06,322.32 L522.98,322.53 L523.89,322.74 L524.81,322.95 L525.72,323.15 L526.64,323.35 L527.55,323.55 L528.47,323.75 L529.38,323.94 L530.30,324.14 L531.21,324.33 L532.13,324.52 L533.04,324.70 L533.96,324.89 L534.87,325.07 L535.79,325.26 L536.70,325.44 L537.62,325.61 L538.53,325.79 L539.45,325.97 L540.36,326.14 L541.28,326.31 L542.19,326.48 L543.11,326.65 L544.02,326.82 L544.94,326.98 L545.85,327.14 L546.77,327.31 L547.68,327.47 L548.60,327.63 L549.51,327.78 L550.43,327.94 L551.34,328.09 L552.26,328.25 L553.17,328.40 L554.09,328.55 L555.00,328.70 L555.92,328.85 L556.83,328.99 L557.75,329.14 L558.66,329.28 L559.58,329.43 L560.49,329.57 L561.41,329.71 L562.32,329.85 L563.24,329.99 L564.15,330.12 L565.07,330.26 L565.98,330.39 L566.90,330.53 L567.81,330.66 L568.73,330.79 L569.64,330.92 L570.56,331.05 L571.47,331.18 L572.39,331.30 L573.30,331.43 L574.22,331.55 L575.13,331.68 L576.05,331.80 L576.96,331.92 L577.88,332.04 L578.79,332.16 L579.71,332.28 L580.62,332.40 L581.54,332.52 L582.45,332.63 L583.37,332.75 L584.28,332.86 L585.20,332.98 L586.11,333.09 L587.03,333.20 L587.94,333.31 L588.86,333.42 L589.77,333.53 L590.69,333.64 L591.60,333.74 L592.52,333.85 L593.43,333.96 L594.35,334.06 L595.26,334.17 L596.18,334.27 L597.09,334.37 L598.01,334.47 L598.92,334.58 L599.84,334.68 L600.75,334.78 L601.67,334.87 L602.58,334.97 L603.50,335.07 L604.41,335.17 L605.33,335.26 L606.24,335.36 L607.16,335.45 L608.07,335.55 L608.99,335.64 L609.90,335.73 L610.82,335.83 L611.73,335.92 L612.65,336.01 L613.56,336.10 L614.48,336.19 L615.39,336.28 L616.31,336.37 L617.22,336.45 L618.14,336.54 L619.05,336.63 L619.97,336.71 L620.88,336.80 L621.80,336.88 L622.71,336.97 L623.63,337.05 L624.54,337.13 L625.46,337.22 L626.37,337.30 L627.29,337.38 L628.20,337.46 L629.12,337.54 L630.03,337.62 L630.95,337.70 L631.86,337.78 L632.78,337.86 L633.69,337.94 L634.61,338.01 L635.52,338.09 L636.44,338.17 L637.35,338.24 L638.27,338.32 L639.18,338.39 L640.10,338.47 L641.01,338.54 L641.93,338.61 L642.84,338.69 L643.76,338.76 L644.67,338.83 L645.59,338.90 L646.50,338.98 L647.42,339.05 L648.33,339.12 L649.25,339.19 L650.16,339.26 L651.08,339.33 L651.99,339.39 L652.91,339.46 L653.82,339.53 L654.74,339.60 L655.65,339.66 L656.57,339.73 L657.48,339.80 L658.40,339.86 L659.31,339.93 L660.23,339.99 L661.14,340.06 L662.06,340.12 L662.97,340.19 L663.89,340.25 L664.80,340.31 L665.72,340.38 L666.63,340.44 L667.55,340.50 L668.46,340.56 L669.38,340.62 L670.29,340.69 L671.21,340.75 L672.12,340.81 L673.04,340.87 L673.95,340.93 L674.87,340.99 L675.78,341.04 L676.70,341.10 L677.61,341.16 L678.53,341.22 L679.44,341.28 L680.36,341.33 L681.27,341.39 L682.19,341.45 L683.10,341.50 L684.02,341.56" fill="none" stroke="#000" stroke-width="2.8" stroke-linecap="butt" stroke-linejoin="round"/>
<path d="M430.80,32.63 L430.80,32.88 L430.80,33.12 L430.80,33.37 L430.80,33.62 L430.80,33.86 L430.80,34.11 L430.81,34.36 L430.81,34.60 L430.81,34.85 L430.81,35.10 L430.81,35.34 L430.81,35.59 L430.81,35.83 L430.81,36.08 L430.81,36.33 L430.81,36.57 L430.81,36.82 L430.81,37.07 L430.81,37.31 L430.81,37.56 L430.81,37.81 L430.82,38.05 L430.82,38.30 L430.82,38.55 L430.82,38.79 L430.82,39.04 L430.82,39.28 L430.82,39.53 L430.82,39.78 L430.82,40.02 L430.82,40.27 L430.82,40.52 L430.82,40.76 L430.82,41.01 L430.82,41.26 L430.82,41.50 L430.83,41.75 L430.83,42.00 L430.83,42.24 L430.83,42.49 L430.83,42.73 L430.83,42.98 L430.83,43.23 M430.85,48.16 L430.85,48.40 L430.85,48.65 L430.85,48.89 L430.85,49.14 L430.85,49.39 L430.85,49.63 L430.85,49.88 L430.85,50.13 L430.86,50.37 M430.87,55.06 L430.87,55.30 L430.88,55.55 L430.88,55.79 L430.88,56.04 L430.88,56.29 L430.88,56.53 L430.88,56.78 L430.88,57.03 L430.88,57.27 L430.88,57.52 L430.88,57.77 L430.89,58.01 L430.89,58.26 L430.89,58.51 L430.89,58.75 L430.89,59.00 L430.89,59.24 L430.89,59.49 L430.89,59.74 L430.89,59.98 L430.90,60.23 L430.90,60.48 L430.90,60.72 L430.90,60.97 L430.90,61.22 L430.90,61.46 L430.90,61.71 L430.90,61.95 L430.90,62.20 L430.91,62.45 L430.91,62.69 L430.91,62.94 L430.91,63.19 L430.91,63.43 L430.91,63.68 L430.91,63.93 L430.91,64.17 L430.91,64.42 L430.92,64.67 L430.92,64.91 L430.92,65.16 L430.92,65.40 M430.94,70.58 L430.94,70.83 L430.95,71.07 L430.95,71.32 L430.95,71.57 L430.95,71.81 L430.95,72.06 L430.95,72.30 L430.95,72.55 L430.95,72.80 M430.98,77.48 L430.98,77.73 L430.98,77.97 L430.98,78.22 L430.98,78.46 L430.99,78.71 L430.99,78.96 L430.99,79.20 L430.99,79.45 L430.99,79.70 L430.99,79.94 L430.99,80.19 L430.99,80.44 L431.00,80.68 L431.00,80.93 L431.00,81.18 L431.00,81.42 L431.00,81.67 L431.00,81.91 L431.00,82.16 L431.01,82.41 L431.01,82.65 L431.01,82.90 L431.01,83.15 L431.01,83.39 L431.01,83.64 L431.01,83.89 L431.01,84.13 L431.02,84.38 L431.02,84.63 L431.02,84.87 L431.02,85.12 L431.02,85.36 L431.02,85.61 L431.02,85.86 L431.03,86.10 L431.03,86.35 L431.03,86.60 L431.03,86.84 L431.03,87.09 L431.03,87.34 L431.03,87.58 L431.04,87.83 M431.06,93.00 L431.07,93.25 L431.07,93.50 L431.07,93.74 L431.07,93.99 L431.07,94.24 L431.07,94.48 L431.07,94.73 L431.08,94.97 L431.08,95.22 M431.10,99.90 L431.10,100.15 L431.11,100.40 L431.11,100.64 L431.11,100.89 L431.11,101.14 L431.11,101.38 L431.11,101.63 L431.11,101.87 L431.11,102.12 L431.12,102.37 L431.12,102.61 L431.12,102.86 L431.12,103.11 L431.12,103.35 L431.12,103.60 L431.12,103.85 L431.13,104.09 L431.13,104.34 L431.13,104.59 L431.13,104.83 L431.13,105.08 L431.13,105.32 L431.13,105.57 L431.14,105.82 L431.14,106.06 L431.14,106.31 L431.14,106.56 L431.14,106.80 L431.14,107.05 L431.14,107.30 L431.15,107.54 L431.15,107.79 L431.15,108.04 L431.15,108.28 L431.15,108.53 L431.15,108.77 L431.15,109.02 L431.16,109.27 L431.16,109.51 L431.16,109.76 L431.16,110.01 L431.16,110.25 M431.20,115.43 L431.20,115.67 L431.20,115.92 L431.20,116.17 L431.20,116.41 L431.20,116.66 L431.21,116.91 L431.21,117.15 L431.21,117.40 M431.25,122.33 L431.25,122.57 L431.25,122.82 L431.26,123.07 L431.26,123.31 L431.26,123.56 L431.26,123.81 L431.26,124.05 L431.27,124.30 L431.27,124.55 L431.27,124.79 L431.27,125.04 L431.28,125.29 L431.28,125.53 L431.28,125.78 L431.28,126.02 L431.29,126.27 L431.29,126.52 L431.29,126.76 L431.29,127.01 L431.29,127.26 L431.30,127.50 L431.30,127.75 L431.30,128.00 L431.30,128.24 L431.31,128.49 L431.31,128.73 L431.31,128.98 L431.32,129.23 L431.32,129.47 L431.32,129.72 L431.32,129.97 L431.33,130.21 L431.33,130.46 L431.33,130.71 L431.33,130.95 L431.34,131.20 L431.34,131.45 L431.34,131.69 L431.35,131.94 L431.35,132.18 L431.35,132.43 L431.35,132.68 M431.42,137.85 L431.42,138.10 L431.43,138.34 L431.43,138.59 L431.43,138.84 L431.44,139.08 L431.44,139.33 L431.45,139.57 L431.45,139.82 M431.57,144.75 L431.58,144.99 L431.59,145.24 L431.59,145.49 L431.60,145.73 L431.61,145.98 L431.62,146.23 L431.63,146.47 L431.64,146.72 L431.65,146.96 L431.66,147.21 L431.67,147.46 L431.68,147.70 L431.69,147.95 L431.70,148.20 L431.71,148.44 L431.72,148.69 L431.73,148.93 L431.74,149.18 L431.75,149.43 L431.76,149.67 L431.77,149.92 L431.78,150.17 L431.79,150.41 L431.80,150.66 L431.81,150.90 L431.82,151.15 L431.83,151.40 L431.84,151.64 L431.85,151.89 L431.86,152.14 L431.87,152.38 L431.88,152.63 L431.89,152.87 L431.90,153.12 L431.91,153.37 L431.92,153.61 L431.93,153.86 L431.94,154.10 L431.95,154.35 L431.96,154.60 L431.97,154.84 L431.98,155.09 M432.21,160.26 L432.23,160.51 L432.24,160.75 L432.25,161.00 L432.26,161.24 L432.27,161.49 L432.29,161.74 L432.30,161.98 L432.31,162.23 M432.56,167.15 L432.58,167.40 L432.59,167.64 L432.60,167.89 L432.62,168.13 L432.63,168.38 L432.64,168.63 L432.66,168.87 L432.67,169.12 L432.68,169.36 L432.70,169.61 L432.71,169.86 L432.72,170.10 L432.74,170.35 L432.75,170.60 L432.76,170.84 L432.78,171.09 L432.79,171.33 L432.81,171.58 L432.82,171.83 L432.83,172.07 L432.85,172.32 L432.86,172.56 L432.87,172.81 L432.89,173.06 L432.90,173.30 L432.92,173.55 L432.93,173.79 L432.94,174.04 L432.96,174.29 L432.97,174.53 L432.99,174.78 L433.00,175.02 L433.01,175.27 L433.03,175.52 L433.04,175.76 L433.06,176.01 L433.07,176.25 L433.08,176.50 L433.10,176.75 L433.11,176.99 L433.12,177.24 L433.14,177.48 M433.43,182.65 L433.45,182.90 L433.46,183.15 L433.47,183.39 L433.49,183.64 L433.50,183.88 L433.52,184.13 L433.53,184.38 L433.55,184.62 M433.86,189.54 L433.88,189.79 L433.90,190.03 L433.91,190.28 L433.93,190.52 L433.95,190.77 L433.97,191.02 L433.98,191.26 L434.00,191.51 L434.02,191.75 L434.04,192.00 L434.06,192.24 L434.07,192.49 L434.09,192.73 L434.11,192.98 L434.13,193.23 L434.15,193.47 L434.17,193.72 L434.19,193.96 L434.21,194.21 L434.23,194.45 L434.25,194.70 L434.27,194.94 L434.29,195.19 L434.31,195.43 L434.33,195.68 L434.35,195.92 L434.37,196.17 L434.40,196.42 L434.42,196.66 L434.44,196.91 L434.46,197.15 L434.49,197.40 L434.51,197.64 L434.53,197.89 L434.56,198.13 L434.58,198.38 L434.61,198.62 L434.63,198.87 L434.66,199.11 L434.68,199.36 L434.71,199.60 L434.74,199.85 M435.34,204.99 L435.37,205.23 L435.40,205.48 L435.43,205.72 L435.46,205.96 L435.49,206.21 L435.52,206.45 L435.56,206.70 L435.59,206.94 L435.62,207.19 M436.28,212.07 L436.31,212.32 L436.34,212.56 L436.38,212.81 L436.41,213.05 L436.45,213.30 L436.48,213.54 L436.51,213.78 L436.55,214.03 L436.58,214.27 L436.61,214.52 L436.65,214.76 L436.68,215.01 L436.71,215.25 L436.75,215.49 L436.78,215.74 L436.82,215.98 L436.85,216.23 L436.88,216.47 L436.92,216.71 L436.95,216.96 L436.98,217.20 L437.02,217.45 L437.05,217.69 L437.08,217.93 L437.12,218.18 L437.15,218.42 L437.18,218.67 L437.22,218.91 L437.25,219.16 L437.28,219.40 L437.32,219.64 L437.35,219.89 L437.39,220.13 L437.42,220.38 L437.46,220.62 L437.49,220.87 L437.52,221.11 L437.56,221.35 L437.59,221.60 L437.63,221.84 L437.66,222.09 L437.70,222.33 M438.50,227.44 L438.54,227.68 L438.59,227.93 L438.63,228.17 L438.67,228.41 L438.71,228.65 L438.76,228.90 L438.80,229.14 L438.85,229.38 L438.89,229.62 M439.91,234.44 L439.97,234.68 L440.02,234.92 L440.08,235.16 L440.13,235.40 L440.19,235.64 L440.24,235.88 L440.30,236.12 L440.36,236.36 L440.41,236.60 L440.47,236.84 L440.53,237.08 L440.58,237.33 L440.64,237.57 L440.70,237.81 L440.75,238.05 L440.81,238.29 L440.86,238.53 L440.92,238.77 L440.98,239.01 L441.03,239.25 L441.09,239.49 L441.15,239.73 L441.20,239.97 L441.26,240.20 L441.31,240.45 L441.37,240.69 L441.42,240.93 L441.48,241.17 L441.53,241.41 L441.59,241.65 L441.64,241.89 L441.69,242.13 L441.75,242.37 L441.80,242.61 L441.86,242.86 L441.91,243.10 L441.96,243.34 L442.02,243.58 L442.07,243.82 L442.12,244.06 L442.18,244.31 L442.23,244.55 L442.28,244.79 M443.52,249.82 L443.59,250.05 L443.66,250.29 L443.73,250.52 L443.80,250.75 L443.87,250.99 L443.94,251.22 L444.02,251.45 L444.09,251.69 L444.17,251.92 M446.11,256.70 L446.22,256.92 L446.33,257.15 L446.43,257.37 L446.54,257.59 L446.64,257.82 L446.75,258.04 L446.86,258.26 L446.97,258.49 L447.08,258.71 L447.19,258.93 L447.30,259.16 L447.41,259.38 L447.52,259.60 L447.63,259.82 L447.74,260.04 L447.85,260.27 L447.96,260.49 L448.07,260.71 L448.18,260.93 L448.29,261.15 L448.40,261.37 L448.50,261.59 L448.61,261.81 L448.72,262.04 L448.83,262.26 L448.94,262.48 L449.05,262.70 L449.16,262.92 L449.27,263.14 L449.38,263.36 L449.49,263.57 L449.61,263.79 L449.72,264.01 L449.83,264.23 L449.94,264.45 L450.06,264.67 L450.17,264.89 L450.29,265.10 L450.40,265.32 L450.52,265.54 L450.64,265.76 L450.75,265.97 L450.87,266.19 L450.99,266.41 L451.10,266.62 L451.22,266.84 L451.34,267.06 M454.23,272.22 L454.35,272.44 L454.47,272.65 L454.59,272.87 L454.71,273.08 L454.83,273.30 L454.95,273.52 L455.07,273.73 L455.19,273.95 L455.31,274.16 L455.43,274.38 M458.14,279.07 L458.28,279.27 L458.41,279.48 L458.55,279.68 L458.69,279.88 L458.83,280.08 L458.97,280.28 L459.11,280.48 L459.29,280.73 L459.47,280.98 L459.65,281.23 L459.83,281.48 L460.01,281.73 L460.20,281.97 L460.38,282.22 L460.57,282.47 L460.76,282.71 L460.95,282.96 L461.14,283.20 L461.33,283.44 L461.52,283.69 L461.72,283.93 L461.91,284.17 L462.10,284.41 L462.30,284.65 L462.50,284.89 L462.70,285.13 L462.90,285.36 L463.10,285.60 L463.30,285.84 L463.50,286.07 L463.70,286.31 L463.91,286.54 L464.11,286.77 L464.32,287.00 L464.52,287.24 L464.73,287.47 L464.94,287.69 L465.14,287.92 L465.35,288.15 L465.56,288.38 L465.77,288.60 L465.98,288.83 L466.19,289.06 L466.40,289.28 L466.61,289.50 M471.55,294.14 L471.78,294.33 L472.02,294.53 L472.26,294.73 L472.49,294.92 L472.73,295.11 L472.97,295.31 L473.21,295.50 L473.45,295.69 L473.70,295.88 M478.64,299.46 L478.84,299.60 L479.05,299.74 L479.25,299.88 L479.45,300.01 L479.66,300.15 L479.86,300.29 L480.07,300.42 L480.27,300.56 L480.48,300.70 L480.69,300.83 L480.89,300.96 L481.10,301.10 L481.31,301.23 L481.51,301.37 L481.72,301.50 L481.93,301.63 L482.14,301.77 L482.35,301.90 L482.55,302.03 L482.76,302.16 L482.97,302.29 L483.18,302.42 L483.39,302.55 L483.60,302.68 L483.81,302.81 L484.02,302.94 L484.23,303.07 L484.44,303.20 L484.65,303.33 L484.86,303.46 L485.08,303.58 L485.29,303.71 L485.50,303.84 L485.71,303.96 L485.92,304.09 L486.14,304.21 L486.35,304.34 L486.56,304.46 L486.77,304.59 L486.99,304.71 L487.20,304.83 L487.41,304.96 L487.63,305.08 L487.84,305.20 L488.06,305.32 L488.27,305.44 L488.48,305.56 L488.70,305.68 L488.91,305.81 M493.94,308.42 L494.16,308.53 L494.39,308.64 L494.61,308.74 L494.83,308.85 L495.05,308.96 L495.27,309.07 L495.49,309.17 L495.72,309.28 L495.94,309.39 L496.16,309.49 M501.07,311.79 L501.30,311.89 L501.53,311.99 L501.75,312.09 L501.98,312.19 L502.20,312.29 L502.43,312.39 L502.65,312.49 L502.88,312.59 L503.10,312.69 L503.33,312.79 L503.56,312.88 L503.78,312.98 L504.01,313.07 L504.24,313.17 L504.46,313.27 L504.69,313.36 L504.92,313.45 L505.15,313.55 L505.38,313.64 L505.60,313.73 L505.83,313.82 L506.06,313.92 L506.29,314.01 L506.52,314.10 L506.74,314.19 L506.97,314.28 L507.20,314.37 L507.43,314.46 L507.66,314.55 L507.89,314.64 L508.12,314.73 L508.35,314.82 L508.58,314.91 L508.81,315.00 L509.04,315.08 L509.27,315.17 L509.50,315.26 L509.73,315.34 L509.97,315.43 L510.20,315.52 L510.43,315.60 L510.66,315.69 L510.89,315.78 L511.12,315.86 L511.35,315.95 M516.49,317.70 L516.72,317.77 L516.95,317.85 L517.19,317.92 L517.42,317.99 L517.66,318.07 L517.89,318.14 L518.13,318.21 L518.37,318.28 L518.60,318.35 M523.34,319.69 L523.58,319.75 L523.82,319.82 L524.06,319.88 L524.30,319.95 L524.54,320.01 L524.77,320.07 L525.01,320.13 L525.25,320.20 L525.49,320.26 L525.73,320.32 L525.97,320.38 L526.21,320.44 L526.45,320.50 L526.68,320.57 L526.92,320.63 L527.16,320.69 L527.40,320.75 L527.64,320.81 L527.88,320.87 L528.12,320.93 L528.36,320.99 L528.60,321.05 L528.83,321.11 L529.07,321.17 L529.31,321.23 L529.55,321.29 L529.79,321.35 L530.03,321.41 L530.27,321.47 L530.51,321.53 L530.75,321.59 L530.99,321.65 L531.22,321.71 L531.46,321.77 L531.70,321.83 L531.94,321.89 L532.18,321.95 L532.42,322.00 L532.66,322.06 L532.90,322.12 L533.14,322.18 L533.38,322.24 L533.62,322.29 L533.86,322.35 M538.90,323.53 L539.14,323.58 L539.38,323.64 L539.62,323.69 L539.86,323.75 L540.10,323.80 L540.34,323.86 L540.58,323.91 L540.82,323.96 L541.06,324.02 M545.87,325.09 L546.11,325.15 L546.35,325.20 L546.59,325.25 L546.83,325.31 L547.07,325.36 L547.31,325.41 L547.56,325.47 L547.80,325.52 L548.04,325.58 L548.28,325.63 L548.52,325.68 L548.76,325.74 L549.00,325.79 L549.24,325.84 L549.48,325.90 L549.72,325.95 L549.96,326.01 L550.20,326.06 L550.44,326.12 L550.68,326.17 L550.92,326.22 L551.16,326.28 L551.40,326.33 L551.64,326.39 L551.88,326.44 L552.13,326.49 L552.37,326.55 L552.61,326.60 L552.85,326.65 L553.09,326.71 L553.33,326.76 L553.57,326.82 L553.81,326.87 L554.05,326.92 L554.29,326.98 L554.53,327.03 L554.77,327.08 L555.01,327.13 L555.25,327.19 L555.50,327.24 L555.74,327.29 L555.98,327.34 L556.22,327.39 M561.29,328.43 L561.53,328.48 L561.77,328.52 L562.01,328.57 L562.25,328.61 L562.50,328.66 L562.74,328.70 L562.98,328.75 L563.22,328.79 L563.47,328.84 M568.32,329.70 L568.56,329.74 L568.80,329.78 L569.05,329.82 L569.29,329.87 L569.53,329.91 L569.77,329.95 L570.02,329.99 L570.26,330.03 L570.50,330.07 L570.75,330.11 L570.99,330.15 L571.23,330.19 L571.48,330.24 L571.72,330.28 L571.96,330.32 L572.21,330.36 L572.45,330.40 L572.69,330.44 L572.94,330.48 L573.18,330.51 L573.42,330.55 L573.67,330.59 L573.91,330.63 L574.15,330.67 L574.40,330.71 L574.64,330.75 L574.88,330.79 L575.13,330.83 L575.37,330.87 L575.61,330.90 L575.86,330.94 L576.10,330.98 L576.35,331.02 L576.59,331.06 L576.83,331.09 L577.08,331.13 L577.32,331.17 L577.56,331.20 L577.81,331.24 L578.05,331.28 L578.29,331.32 L578.54,331.35 M583.66,332.09 L583.91,332.12 L584.15,332.15 L584.39,332.19 L584.64,332.22 L584.88,332.25 L585.13,332.29 L585.37,332.32 L585.61,332.35 L585.86,332.38 M590.74,333.01 L590.99,333.04 L591.23,333.07 L591.48,333.10 L591.72,333.13 L591.97,333.16 L592.21,333.19 L592.45,333.22 L592.70,333.25 L592.94,333.28 L593.19,333.31 L593.43,333.34 L593.68,333.37 L593.92,333.40 L594.17,333.43 L594.41,333.45 L594.66,333.48 L594.90,333.51 L595.15,333.54 L595.39,333.57 L595.63,333.60 L595.88,333.63 L596.12,333.66 L596.37,333.69 L596.61,333.72 L596.86,333.74 L597.10,333.77 L597.35,333.80 L597.59,333.83 L597.84,333.86 L598.08,333.89 L598.33,333.91 L598.57,333.94 L598.82,333.97 L599.06,334.00 L599.31,334.03 L599.55,334.05 L599.80,334.08 L600.04,334.11 L600.29,334.14 L600.53,334.16 L600.78,334.19 L601.02,334.22 M605.92,334.75 L606.17,334.78 L606.41,334.81 L606.66,334.83 L606.90,334.86 L607.15,334.88 L607.39,334.91 L607.64,334.94 L607.88,334.96 L608.13,334.99 M613.03,335.49 L613.28,335.51 L613.52,335.54 L613.77,335.56 L614.01,335.59 L614.26,335.61 L614.51,335.64 L614.75,335.66 L615.00,335.68 L615.24,335.71 L615.49,335.73 L615.73,335.76 L615.98,335.78 L616.22,335.80 L616.47,335.83 L616.71,335.85 L616.96,335.87 L617.20,335.90 L617.45,335.92 L617.69,335.95 L617.94,335.97 L618.19,335.99 L618.43,336.02 L618.68,336.04 L618.92,336.06 L619.17,336.09 L619.41,336.11 L619.66,336.13 L619.90,336.16 L620.15,336.18 L620.39,336.20 L620.64,336.23 L620.88,336.25 L621.13,336.27 L621.37,336.30 L621.62,336.32 L621.87,336.34 L622.11,336.36 L622.36,336.39 L622.60,336.41 L622.85,336.43 L623.09,336.45 L623.34,336.48 M628.49,336.95 L628.73,336.97 L628.98,336.99 L629.23,337.01 L629.47,337.03 L629.72,337.06 L629.96,337.08 L630.21,337.10 L630.45,337.12 L630.70,337.14 M635.36,337.56 L635.61,337.58 L635.85,337.60 L636.10,337.62 L636.34,337.64 L636.59,337.66 L636.83,337.69 L637.08,337.71 L637.32,337.73 L637.57,337.75 L637.81,337.77 L638.06,337.79 L638.31,337.81 L638.55,337.83 L638.80,337.86 L639.04,337.88 L639.29,337.90 L639.53,337.92 L639.78,337.94 L640.02,337.96 L640.27,337.98 L640.52,338.00 L640.76,338.02 L641.01,338.04 L641.25,338.07 L641.50,338.09 L641.74,338.11 L641.99,338.13 L642.23,338.15 L642.48,338.17 L642.72,338.19 L642.97,338.21 L643.22,338.23 L643.46,338.25 L643.71,338.27 L643.95,338.29 L644.20,338.31 L644.44,338.33 L644.69,338.36 L644.93,338.38 L645.18,338.40 L645.43,338.42 L645.67,338.44 M650.83,338.86 L651.07,338.88 L651.32,338.90 L651.57,338.92 L651.81,338.94 L652.06,338.96 L652.30,338.98 L652.55,339.00 L652.79,339.01 L653.04,339.03 M657.71,339.40 L657.95,339.42 L658.20,339.44 L658.44,339.45 L658.69,339.47 L658.94,339.49 L659.18,339.51 L659.43,339.53 L659.67,339.55 L659.92,339.57 L660.16,339.58 L660.41,339.60 L660.66,339.62 L660.90,339.64 L661.15,339.66 L661.39,339.68 L661.64,339.69 L661.89,339.71 L662.13,339.73 L662.38,339.75 L662.62,339.77 L662.87,339.78 L663.11,339.80 L663.36,339.82 L663.61,339.84 L663.85,339.86 L664.10,339.87 L664.34,339.89 L664.59,339.91 L664.83,339.93 L665.08,339.95 L665.33,339.96 L665.57,339.98 L665.82,340.00 L666.06,340.02 L666.31,340.03 L666.56,340.05 L666.80,340.07 L667.05,340.09 L667.29,340.10 L667.54,340.12 L667.78,340.14 L668.03,340.16 L668.28,340.17 M673.19,340.51 L673.44,340.52 L673.69,340.54 L673.93,340.56 L674.18,340.57 L674.42,340.59 L674.67,340.61 L674.92,340.62 L675.16,340.64 L675.41,340.65 M680.33,340.96 L680.57,340.98 L680.82,340.99 L681.07,341.01 L681.31,341.02 L681.56,341.04 L681.81,341.05 L682.05,341.07 L682.30,341.08 L682.54,341.10 L682.79,341.11 L683.04,341.13 L683.28,341.14 L683.53,341.16 L683.77,341.17 L684.02,341.19" fill="none" stroke="#00c800" stroke-width="2.9" stroke-linecap="butt" stroke-linejoin="round"/>
<path d="M470.73,30.50 L470.73,30.72 L470.73,30.95 L470.73,31.17 L470.74,31.39 L470.74,31.62 L470.74,31.84 L470.74,32.06 L470.74,32.29 L470.74,32.51 L470.74,32.73 L470.75,32.96 L470.75,33.18 L470.75,33.40 L470.75,33.62 L470.75,33.85 L470.75,34.07 L470.76,34.29 L470.76,34.52 L470.76,34.74 L470.76,34.96 L470.76,35.19 L470.76,35.41 L470.77,35.63 L470.77,35.86 L470.77,36.08 L470.77,36.30 L470.77,36.53 L470.77,36.75 L470.77,36.97 L470.78,37.20 L470.78,37.42 L470.78,37.64 L470.78,37.87 L470.78,38.09 L470.78,38.31 L470.79,38.53 L470.79,38.76 L470.79,38.98 L470.79,39.20 L470.79,39.43 L470.79,39.65 L470.80,39.87 L470.80,40.10 L470.80,40.32 L470.80,40.54 L470.80,40.77 L470.80,40.99 M470.90,53.04 L470.90,53.26 L470.90,53.49 L470.91,53.71 L470.91,53.93 L470.91,54.16 L470.91,54.38 L470.91,54.60 L470.92,54.83 L470.92,55.05 L470.92,55.27 L470.92,55.50 L470.92,55.72 L470.92,55.94 L470.93,56.17 L470.93,56.39 L470.93,56.61 L470.93,56.84 L470.93,57.06 L470.94,57.28 L470.94,57.51 L470.94,57.73 L470.94,57.95 L470.94,58.17 L470.95,58.40 L470.95,58.62 L470.95,58.84 L470.95,59.07 L470.95,59.29 L470.96,59.51 L470.96,59.74 L470.96,59.96 L470.96,60.18 L470.96,60.41 L470.97,60.63 L470.97,60.85 L470.97,61.08 L470.97,61.30 L470.97,61.52 L470.98,61.75 L470.98,61.97 L470.98,62.19 L470.98,62.42 L470.98,62.64 L470.99,62.86 L470.99,63.08 L470.99,63.31 M471.10,75.36 L471.10,75.58 L471.11,75.81 L471.11,76.03 L471.11,76.25 L471.11,76.48 L471.12,76.70 L471.12,76.92 L471.12,77.15 L471.12,77.37 L471.12,77.59 L471.13,77.81 L471.13,78.04 L471.13,78.26 L471.13,78.48 L471.14,78.71 L471.14,78.93 L471.14,79.15 L471.14,79.38 L471.14,79.60 L471.15,79.82 L471.15,80.05 L471.15,80.27 L471.15,80.49 L471.15,80.72 L471.16,80.94 L471.16,81.16 L471.16,81.39 L471.16,81.61 L471.16,81.83 L471.17,82.06 L471.17,82.28 L471.17,82.50 L471.17,82.72 L471.17,82.95 L471.18,83.17 L471.18,83.39 L471.18,83.62 L471.18,83.84 L471.18,84.06 L471.19,84.29 L471.19,84.51 L471.19,84.73 L471.19,84.96 L471.19,85.18 L471.19,85.40 L471.20,85.63 L471.20,85.85 M471.30,97.90 L471.30,98.13 L471.30,98.35 L471.31,98.57 L471.31,98.80 L471.31,99.02 L471.31,99.24 L471.31,99.47 L471.32,99.69 L471.32,99.91 L471.32,100.14 L471.32,100.36 L471.32,100.58 L471.33,100.81 L471.33,101.03 L471.33,101.25 L471.33,101.48 L471.34,101.70 L471.34,101.92 L471.34,102.15 L471.34,102.37 L471.34,102.59 L471.35,102.82 L471.35,103.04 L471.35,103.26 L471.35,103.49 L471.36,103.71 L471.36,103.93 L471.36,104.15 L471.36,104.38 L471.36,104.60 L471.37,104.82 L471.37,105.05 L471.37,105.27 L471.37,105.49 L471.38,105.72 L471.38,105.94 L471.38,106.16 L471.38,106.39 L471.39,106.61 L471.39,106.83 L471.39,107.06 L471.39,107.28 L471.40,107.50 L471.40,107.73 L471.40,107.95 L471.40,108.17 M471.58,120.22 L471.58,120.44 L471.58,120.67 L471.59,120.89 L471.59,121.11 L471.60,121.34 L471.60,121.56 L471.60,121.78 L471.61,122.01 L471.61,122.23 L471.62,122.45 L471.62,122.68 L471.63,122.90 L471.63,123.12 L471.63,123.34 L471.64,123.57 L471.64,123.79 L471.65,124.01 L471.65,124.24 L471.66,124.46 L471.66,124.68 L471.66,124.91 L471.67,125.13 L471.67,125.35 L471.68,125.57 L471.68,125.80 L471.69,126.02 L471.69,126.24 L471.70,126.47 L471.70,126.69 L471.71,126.91 L471.71,127.14 L471.72,127.36 L471.72,127.58 L471.73,127.81 L471.73,128.03 L471.74,128.25 L471.75,128.47 L471.75,128.70 L471.76,128.92 L471.77,129.14 L471.77,129.37 L471.78,129.59 L471.79,129.81 L471.80,130.04 L471.81,130.26 L471.81,130.48 M472.60,142.51 L472.63,142.73 L472.66,142.95 L472.68,143.17 L472.72,143.39 L472.75,143.61 L472.78,143.83 L472.82,144.05 L472.85,144.27 L472.89,144.49 L472.92,144.71 L472.96,144.93 L473.00,145.15 L473.04,145.37 L473.08,145.59 L473.12,145.81 L473.15,146.03 L473.19,146.25 L473.23,146.48 L473.27,146.70 L473.31,146.92 L473.35,147.14 L473.39,147.36 L473.43,147.58 L473.47,147.80 L473.50,148.02 L473.54,148.24 L473.58,148.46 L473.62,148.68 L473.65,148.90 L473.68,149.12 L473.71,149.34 L473.75,149.56 L473.78,149.78 L473.81,150.00 L473.83,150.22 L473.86,150.45 L473.88,150.67 L473.91,150.89 L473.93,151.11 L473.96,151.33 L473.98,151.55 L474.00,151.78 L474.03,152.00 L474.05,152.22 L474.07,152.44 L474.09,152.66 L474.12,152.88 M475.11,165.12 L475.12,165.34 L475.14,165.57 L475.16,165.79 L475.17,166.01 L475.19,166.24 L475.20,166.46 L475.22,166.68 L475.24,166.90 L475.25,167.13 L475.27,167.35 L475.28,167.57 L475.30,167.79 L475.32,168.02 L475.33,168.24 L475.35,168.46 L475.37,168.69 L475.38,168.91 L475.40,169.13 L475.42,169.35 L475.43,169.58 L475.45,169.80 L475.47,170.02 L475.48,170.24 L475.50,170.47 L475.51,170.69 L475.53,170.91 L475.55,171.13 L475.56,171.36 L475.58,171.58 L475.59,171.80 L475.61,172.02 L475.62,172.25 L475.64,172.47 L475.65,172.69 L475.67,172.92 L475.68,173.14 L475.70,173.36 L475.71,173.58 L475.73,173.81 L475.74,174.03 L475.76,174.25 L475.77,174.48 L475.79,174.70 L475.80,174.92 L475.82,175.14 L475.83,175.37 M476.60,187.40 L476.62,187.62 L476.64,187.84 L476.65,188.07 L476.67,188.29 L476.69,188.51 L476.70,188.73 L476.72,188.95 L476.74,189.18 L476.76,189.40 L476.77,189.62 L476.79,189.84 L476.81,190.07 L476.83,190.29 L476.85,190.51 L476.86,190.73 L476.88,190.95 L476.90,191.18 L476.92,191.40 L476.94,191.62 L476.96,191.84 L476.98,192.07 L477.00,192.29 L477.02,192.51 L477.04,192.73 L477.06,192.95 L477.08,193.17 L477.10,193.40 L477.13,193.62 L477.15,193.84 L477.17,194.06 L477.19,194.28 L477.21,194.51 L477.24,194.73 L477.26,194.95 L477.28,195.17 L477.30,195.39 L477.33,195.62 L477.35,195.84 L477.38,196.06 L477.40,196.28 L477.42,196.50 L477.45,196.73 L477.47,196.95 L477.50,197.17 L477.52,197.39 L477.55,197.61 L477.57,197.83 M479.21,209.79 L479.24,210.01 L479.28,210.23 L479.31,210.45 L479.35,210.67 L479.38,210.89 L479.42,211.11 L479.45,211.33 L479.49,211.55 L479.52,211.77 L479.56,211.99 L479.59,212.21 L479.63,212.43 L479.66,212.65 L479.70,212.87 L479.73,213.09 L479.77,213.31 L479.81,213.53 L479.84,213.75 L479.88,213.97 L479.91,214.19 L479.95,214.41 L479.99,214.63 L480.02,214.85 L480.06,215.07 L480.10,215.29 L480.13,215.51 L480.17,215.73 L480.21,215.95 L480.24,216.17 L480.28,216.39 L480.32,216.61 L480.35,216.83 L480.39,217.06 L480.43,217.28 L480.46,217.50 L480.50,217.72 L480.54,217.94 L480.58,218.16 L480.61,218.38 L480.65,218.60 L480.69,218.82 L480.73,219.05 L480.77,219.27 L480.81,219.49 L480.85,219.71 L480.88,219.93 L480.92,220.15 M483.66,232.10 L483.73,232.31 L483.79,232.52 L483.86,232.73 L483.94,232.94 L484.02,233.15 L484.11,233.35 L484.19,233.56 L484.27,233.77 L484.36,233.97 L484.46,234.17 L484.55,234.38 L484.64,234.58 L484.73,234.78 L484.83,234.99 L484.93,235.19 L485.02,235.39 L485.12,235.60 L485.22,235.80 L485.31,236.00 L485.41,236.21 L485.50,236.41 L485.59,236.61 L485.69,236.82 L485.78,237.02 L485.86,237.23 L485.95,237.43 L486.03,237.64 L486.12,237.85 L486.20,238.05 L486.29,238.26 L486.37,238.47 L486.46,238.67 L486.54,238.88 L486.62,239.09 L486.70,239.30 L486.79,239.50 L486.87,239.71 L486.95,239.92 L487.03,240.13 L487.11,240.34 L487.19,240.55 L487.27,240.75 L487.35,240.96 L487.43,241.17 L487.51,241.38 L487.59,241.59 L487.67,241.80 L487.75,242.01 L487.83,242.22 L487.91,242.43 L487.99,242.64 M492.84,254.63 L492.93,254.83 L493.02,255.03 L493.12,255.23 L493.21,255.44 L493.31,255.64 L493.40,255.84 L493.49,256.05 L493.59,256.25 L493.68,256.45 L493.78,256.66 L493.87,256.86 L493.97,257.06 L494.06,257.27 L494.16,257.47 L494.26,257.67 L494.35,257.88 L494.45,258.08 L494.55,258.29 L494.64,258.49 L494.74,258.69 L494.84,258.90 L494.93,259.10 L495.03,259.30 L495.13,259.51 L495.23,259.71 L495.33,259.91 L495.43,260.12 L495.52,260.32 L495.62,260.53 L495.72,260.73 L495.82,260.93 L495.92,261.14 L496.02,261.34 L496.12,261.54 L496.22,261.74 L496.33,261.95 L496.43,262.15 L496.53,262.35 L496.63,262.55 L496.73,262.76 L496.83,262.96 L496.94,263.16 L497.04,263.36 L497.14,263.56 L497.25,263.77 L497.35,263.97 L497.46,264.17 L497.56,264.37 L497.66,264.57 L497.80,264.82 L497.93,265.07 M505.48,276.99 L505.65,277.20 L505.82,277.42 L505.99,277.63 L506.17,277.83 L506.35,278.04 L506.53,278.25 L506.71,278.46 L506.90,278.66 L507.09,278.87 L507.27,279.07 L507.46,279.28 L507.65,279.48 L507.85,279.68 L508.04,279.88 L508.23,280.08 L508.43,280.28 L508.63,280.48 L508.82,280.68 L509.02,280.88 L509.22,281.07 L509.43,281.27 L509.63,281.46 L509.83,281.66 L510.03,281.85 L510.24,282.05 L510.45,282.24 L510.65,282.43 L510.86,282.63 L511.07,282.82 L511.28,283.01 L511.48,283.20 L511.69,283.39 L511.91,283.58 L512.12,283.77 L512.33,283.96 L512.54,284.15 L512.75,284.34 L512.96,284.52 L513.17,284.71 L513.38,284.90 L513.60,285.08 L513.81,285.27 L514.02,285.46 L514.23,285.64 L514.44,285.83 L514.65,286.01 L514.87,286.20 L515.08,286.38 L515.29,286.56 L515.50,286.75 M527.53,296.27 L527.75,296.44 L527.97,296.61 L528.19,296.78 L528.41,296.96 L528.63,297.13 L528.85,297.30 L529.07,297.48 L529.29,297.66 L529.51,297.83 L529.73,298.01 L529.95,298.19 L530.17,298.36 L530.39,298.54 L530.60,298.72 L530.82,298.89 L531.04,299.07 L531.26,299.25 L531.48,299.42 L531.70,299.60 L531.92,299.77 L532.14,299.95 L532.36,300.12 L532.58,300.29 L532.81,300.46 L533.03,300.63 L533.25,300.81 L533.47,300.97 L533.70,301.14 L533.92,301.31 L534.15,301.47 L534.37,301.63 L534.60,301.79 L534.83,301.95 L535.05,302.11 L535.28,302.27 L535.51,302.42 L535.74,302.58 L535.97,302.73 L536.21,302.87 L536.44,303.02 L536.68,303.16 L536.91,303.31 L537.15,303.44 L537.39,303.58 L537.63,303.71 L537.86,303.85 M549.92,309.17 L550.13,309.25 L550.34,309.34 L550.55,309.42 L550.75,309.50 L550.96,309.59 L551.17,309.67 L551.37,309.75 L551.58,309.84 L551.79,309.92 L552.00,310.00 L552.20,310.09 L552.41,310.17 L552.62,310.25 L552.83,310.33 L553.04,310.41 L553.24,310.50 L553.45,310.58 L553.66,310.66 L553.87,310.74 L554.08,310.82 L554.29,310.90 L554.49,310.98 L554.70,311.05 L554.91,311.13 L555.12,311.21 L555.33,311.29 L555.54,311.37 L555.75,311.44 L555.96,311.52 L556.17,311.60 L556.38,311.67 L556.59,311.75 L556.80,311.82 L557.01,311.89 L557.22,311.97 L557.43,312.04 L557.64,312.11 L557.85,312.19 L558.06,312.26 L558.27,312.33 L558.49,312.40 L558.70,312.47 L558.91,312.54 L559.12,312.60 L559.34,312.67 L559.55,312.74 L559.76,312.80 L559.98,312.86 L560.19,312.93 L560.41,312.99 M572.31,316.71 L572.56,316.85 L572.80,316.99 L573.05,317.13 L573.29,317.27 L573.54,317.41 L573.78,317.55 L574.02,317.70 L574.27,317.84 L574.51,317.97 L574.76,318.11 L575.00,318.24 L575.25,318.37 L575.45,318.46 L575.65,318.56 L575.85,318.65 L576.05,318.74 L576.26,318.83 L576.46,318.91 L576.67,318.98 L576.87,319.06 L577.08,319.13 L577.28,319.21 L577.49,319.28 L577.70,319.35 L577.91,319.42 L578.12,319.50 L578.32,319.57 L578.53,319.64 L578.74,319.71 L578.95,319.78 L579.16,319.85 L579.37,319.91 L579.58,319.98 L579.79,320.05 L580.00,320.11 L580.21,320.18 L580.43,320.25 L580.64,320.31 L580.85,320.38 L581.06,320.44 L581.28,320.50 L581.49,320.57 L581.70,320.63 L581.92,320.69 L582.13,320.75 L582.34,320.81 L582.56,320.87 L582.77,320.93 M594.78,323.79 L595.00,323.83 L595.22,323.88 L595.44,323.93 L595.66,323.98 L595.88,324.02 L596.10,324.07 L596.32,324.12 L596.54,324.17 L596.76,324.22 L596.98,324.26 L597.20,324.31 L597.41,324.36 L597.63,324.41 L597.85,324.46 L598.07,324.50 L598.29,324.55 L598.50,324.60 L598.72,324.65 L598.94,324.70 L599.16,324.75 L599.38,324.80 L599.59,324.84 L599.81,324.89 L600.03,324.94 L600.25,324.99 L600.46,325.04 L600.68,325.09 L600.90,325.13 L601.12,325.18 L601.34,325.23 L601.55,325.28 L601.77,325.33 L601.99,325.38 L602.21,325.42 L602.42,325.47 L602.64,325.52 L602.86,325.57 L603.08,325.61 L603.30,325.66 L603.52,325.71 L603.73,325.76 L603.95,325.80 L604.17,325.85 L604.39,325.90 L604.61,325.95 L604.82,325.99 L605.04,326.04 M617.09,328.43 L617.31,328.47 L617.53,328.51 L617.75,328.55 L617.97,328.58 L618.19,328.62 L618.41,328.66 L618.63,328.70 L618.85,328.74 L619.07,328.77 L619.29,328.81 L619.51,328.85 L619.73,328.88 L619.95,328.92 L620.17,328.96 L620.39,328.99 L620.61,329.03 L620.83,329.06 L621.05,329.10 L621.27,329.13 L621.49,329.17 L621.71,329.20 L621.93,329.24 L622.15,329.27 L622.37,329.31 L622.59,329.34 L622.81,329.38 L623.03,329.41 L623.25,329.44 L623.47,329.48 L623.69,329.51 L623.91,329.54 L624.13,329.58 L624.35,329.61 L624.58,329.64 L624.80,329.67 L625.02,329.70 L625.24,329.74 L625.46,329.77 L625.68,329.80 L625.90,329.83 L626.12,329.86 L626.34,329.90 L626.56,329.93 L626.78,329.96 L627.00,329.99 L627.23,330.02 L627.45,330.05 M639.63,331.60 L639.85,331.63 L640.07,331.65 L640.29,331.68 L640.52,331.71 L640.74,331.73 L640.96,331.76 L641.18,331.79 L641.40,331.81 L641.62,331.84 L641.85,331.86 L642.07,331.89 L642.29,331.92 L642.51,331.94 L642.73,331.97 L642.95,332.00 L643.18,332.02 L643.40,332.05 L643.62,332.08 L643.84,332.10 L644.06,332.13 L644.28,332.15 L644.51,332.18 L644.73,332.21 L644.95,332.23 L645.17,332.26 L645.39,332.28 L645.61,332.31 L645.84,332.34 L646.06,332.36 L646.28,332.39 L646.50,332.41 L646.72,332.44 L646.94,332.46 L647.17,332.49 L647.39,332.52 L647.61,332.54 L647.83,332.57 L648.05,332.59 L648.27,332.62 L648.50,332.64 L648.72,332.67 L648.94,332.69 L649.16,332.72 L649.38,332.74 L649.60,332.77 L649.83,332.79 M662.03,334.10 L662.25,334.13 L662.48,334.15 L662.70,334.17 L662.92,334.19 L663.14,334.22 L663.36,334.24 L663.59,334.26 L663.81,334.29 L664.03,334.31 L664.25,334.33 L664.47,334.36 L664.70,334.38 L664.92,334.40 L665.14,334.42 L665.36,334.45 L665.58,334.47 L665.81,334.49 L666.03,334.52 L666.25,334.54 L666.47,334.56 L666.69,334.59 L666.92,334.61 L667.14,334.63 L667.36,334.65 L667.58,334.68 L667.80,334.70 L668.03,334.72 L668.25,334.74 L668.47,334.77 L668.69,334.79 L668.91,334.81 L669.14,334.83 L669.36,334.86 L669.58,334.88 L669.80,334.90 L670.02,334.92 L670.25,334.95 L670.47,334.97 L670.69,334.99 L670.91,335.01 L671.14,335.04 L671.36,335.06 L671.58,335.08 L671.80,335.10 L672.02,335.13 L672.25,335.15" fill="none" stroke="#cc0000" stroke-width="3.3" stroke-linecap="butt" stroke-linejoin="round"/>
<rect x="410.0" y="248.4" width="2.6" height="4.8" fill="#000"/>
<rect x="61.4" y="7" width="275.00" height="354.60" stroke="#222" stroke-width="1.8" fill="none"/>
<rect x="409.1" y="7" width="274.70" height="354.60" stroke="#222" stroke-width="1.8" fill="none"/>
<rect x="61.10" y="7" width="198.60" height="104.3" fill="#fff" stroke="#333" stroke-width="1.1"/>
<line x1="70.2" y1="38.75" x2="152.8" y2="38.75" stroke="#000" stroke-width="3.8"/>
<line x1="70.2" y1="65.9" x2="152.8" y2="65.9" stroke="#00c800" stroke-width="3.2" stroke-dasharray="10.6 4.8 2.4 4.6"/>
<line x1="70.2" y1="93.9" x2="152.8" y2="93.9" stroke="#cc0000" stroke-width="3.6" stroke-dasharray="10.6 11.8"/>
<rect x="479.50" y="7" width="198.00" height="104.3" fill="#fff" stroke="#333" stroke-width="1.1"/>
<line x1="488.6" y1="38.75" x2="571.2" y2="38.75" stroke="#000" stroke-width="3.8"/>
<line x1="488.6" y1="65.9" x2="571.2" y2="65.9" stroke="#00c800" stroke-width="3.2" stroke-dasharray="10.6 4.8 2.4 4.6"/>
<line x1="488.6" y1="93.9" x2="571.2" y2="93.9" stroke="#cc0000" stroke-width="3.6" stroke-dasharray="10.6 11.8"/>
<text transform="translate(176.83,44.80) scale(0.862,1)" font-size="18.3" font-weight="bold" fill="#000">a</text>
<text transform="translate(186.99,49.40) scale(0.950,1)" font-size="10.8" font-weight="normal" fill="#000">0</text>
<text transform="translate(194.72,44.80) scale(0.850,1)" font-size="18.3" font-weight="bold" fill="#000">(</text>
<text transform="translate(200.58,44.80) scale(0.850,1)" font-size="18.3" font-weight="bold" fill="#000">0</text>
<text transform="translate(212.76,44.80) scale(0.850,1)" font-size="18.3" font-weight="bold" fill="#000">)</text>
<text transform="translate(222.39,34.20) scale(0.936,1)" font-size="10.8" font-weight="normal" fill="#000">2</text>
<text transform="translate(167.43,72.00) scale(0.850,1)" font-size="18.3" font-weight="bold" fill="#000">|</text>
<text transform="translate(177.34,72.00) scale(0.995,1)" font-size="18.3" font-weight="bold" fill="#000">A</text>
<text transform="translate(189.95,62.80) scale(1.171,1)" font-size="10.8" font-weight="normal" fill="#000">sq</text>
<text transform="translate(196.07,76.80) scale(0.995,1)" font-size="10.8" font-weight="normal" fill="#000">00</text>
<text transform="translate(209.72,72.00) scale(0.850,1)" font-size="18.3" font-weight="bold" fill="#000">(</text>
<text transform="translate(215.72,72.00) scale(0.932,1)" font-size="18.3" font-weight="bold" fill="#000">0</text>
<text transform="translate(228.26,72.00) scale(0.850,1)" font-size="18.3" font-weight="bold" fill="#000">)</text>
<text transform="translate(238.23,72.00) scale(0.850,1)" font-size="18.3" font-weight="bold" fill="#000">|</text>
<text transform="translate(242.53,62.60) scale(1.058,1)" font-size="10.8" font-weight="normal" fill="#000">2</text>
<text transform="translate(167.43,100.00) scale(0.850,1)" font-size="18.3" font-weight="bold" fill="#000">|</text>
<text transform="translate(177.34,100.00) scale(0.995,1)" font-size="18.3" font-weight="bold" fill="#000">A</text>
<text transform="translate(189.85,90.60) scale(1.123,1)" font-size="10.8" font-weight="normal" fill="#000">hx</text>
<text transform="translate(196.87,104.80) scale(0.986,1)" font-size="10.8" font-weight="normal" fill="#000">00</text>
<text transform="translate(210.22,100.00) scale(0.850,1)" font-size="18.3" font-weight="bold" fill="#000">(</text>
<text transform="translate(216.52,100.00) scale(0.932,1)" font-size="18.3" font-weight="bold" fill="#000">0</text>
<text transform="translate(229.56,100.00) scale(0.850,1)" font-size="18.3" font-weight="bold" fill="#000">)</text>
<text transform="translate(239.33,100.00) scale(0.850,1)" font-size="18.3" font-weight="bold" fill="#000">|</text>
<text transform="translate(243.67,90.60) scale(0.977,1)" font-size="10.8" font-weight="normal" fill="#000">2</text>
<text transform="translate(594.83,44.80) scale(0.862,1)" font-size="18.3" font-weight="bold" fill="#000">a</text>
<path d="M609.20,41.45 L609.20,49.40 M609.20,41.85 C608.30,43.04 607.25,43.84 606.20,44.16" fill="none" stroke="#000" stroke-width="1.25"/>
<text transform="translate(612.72,44.80) scale(0.850,1)" font-size="18.3" font-weight="bold" fill="#000">(</text>
<text transform="translate(618.58,44.80) scale(0.850,1)" font-size="18.3" font-weight="bold" fill="#000">0</text>
<text transform="translate(630.76,44.80) scale(0.850,1)" font-size="18.3" font-weight="bold" fill="#000">)</text>
<text transform="translate(640.39,34.20) scale(0.936,1)" font-size="10.8" font-weight="normal" fill="#000">2</text>
<text transform="translate(585.43,72.00) scale(0.850,1)" font-size="18.3" font-weight="bold" fill="#000">|</text>
<text transform="translate(595.34,72.00) scale(0.995,1)" font-size="18.3" font-weight="bold" fill="#000">A</text>
<text transform="translate(607.95,62.80) scale(1.171,1)" font-size="10.8" font-weight="normal" fill="#000">sq</text>
<text transform="translate(614.13,76.80) scale(0.853,1)" font-size="10.8" font-weight="normal" fill="#000">0</text><path d="M624.20,68.85 L624.20,76.80 M624.20,69.25 C623.12,70.44 621.86,71.24 620.60,71.56" fill="none" stroke="#000" stroke-width="1.25"/>
<text transform="translate(627.72,72.00) scale(0.850,1)" font-size="18.3" font-weight="bold" fill="#000">(</text>
<text transform="translate(633.72,72.00) scale(0.932,1)" font-size="18.3" font-weight="bold" fill="#000">0</text>
<text transform="translate(646.26,72.00) scale(0.850,1)" font-size="18.3" font-weight="bold" fill="#000">)</text>
<text transform="translate(656.23,72.00) scale(0.850,1)" font-size="18.3" font-weight="bold" fill="#000">|</text>
<text transform="translate(660.53,62.60) scale(1.058,1)" font-size="10.8" font-weight="normal" fill="#000">2</text>
<text transform="translate(585.43,100.00) scale(0.850,1)" font-size="18.3" font-weight="bold" fill="#000">|</text>
<text transform="translate(595.34,100.00) scale(0.995,1)" font-size="18.3" font-weight="bold" fill="#000">A</text>
<text transform="translate(607.85,90.60) scale(1.123,1)" font-size="10.8" font-weight="normal" fill="#000">hx</text>
<text transform="translate(614.87,104.80) scale(0.999,1)" font-size="10.8" font-weight="normal" fill="#000">02</text>
<text transform="translate(628.22,100.00) scale(0.850,1)" font-size="18.3" font-weight="bold" fill="#000">(</text>
<text transform="translate(634.52,100.00) scale(0.932,1)" font-size="18.3" font-weight="bold" fill="#000">0</text>
<text transform="translate(647.56,100.00) scale(0.850,1)" font-size="18.3" font-weight="bold" fill="#000">)</text>
<text transform="translate(657.33,100.00) scale(0.850,1)" font-size="18.3" font-weight="bold" fill="#000">|</text>
<text transform="translate(661.67,90.60) scale(0.977,1)" font-size="10.8" font-weight="normal" fill="#000">2</text>
<text transform="translate(19.7,295.3) rotate(-90)" font-family="Liberation Sans" font-size="27" font-weight="bold" fill="#000">Peak power (a.u.)</text>
<text transform="translate(367.2,295.3) rotate(-90)" font-family="Liberation Sans" font-size="27" font-weight="bold" fill="#000">Peak power (a.u.)</text>
<g transform="translate(-0.5,0.8)" fill="none" stroke="#000" stroke-linecap="round"><path d="M173.5,382.6 C173.1,379.6 174.8,378.0 176.3,378.1 C178.0,378.3 178.8,380.5 179.4,383.0 L182.1,394.3 C182.8,397.2 184.0,398.4 185.4,398.3 C186.6,398.2 187.4,396.6 187.8,395.3" stroke-width="1.5"/><path d="M179.7,386.0 L173.6,400.5" stroke-width="2.4" stroke-linecap="butt"/></g>
<g transform="translate(347.9,0.8)" fill="none" stroke="#000" stroke-linecap="round"><path d="M173.5,382.6 C173.1,379.6 174.8,378.0 176.3,378.1 C178.0,378.3 178.8,380.5 179.4,383.0 L182.1,394.3 C182.8,397.2 184.0,398.4 185.4,398.3 C186.6,398.2 187.4,396.6 187.8,395.3" stroke-width="1.5"/><path d="M179.7,386.0 L173.6,400.5" stroke-width="2.4" stroke-linecap="butt"/></g>
<text transform="translate(289.46,284.66) scale(0.885,1)" font-family="Liberation Sans" font-size="24.20" font-weight="bold" fill="#000">a</text>
<text transform="translate(638.82,284.67) scale(1.053,1)" font-family="Liberation Sans" font-size="23.13" font-weight="bold" fill="#000">b</text>
</svg></body></html>
